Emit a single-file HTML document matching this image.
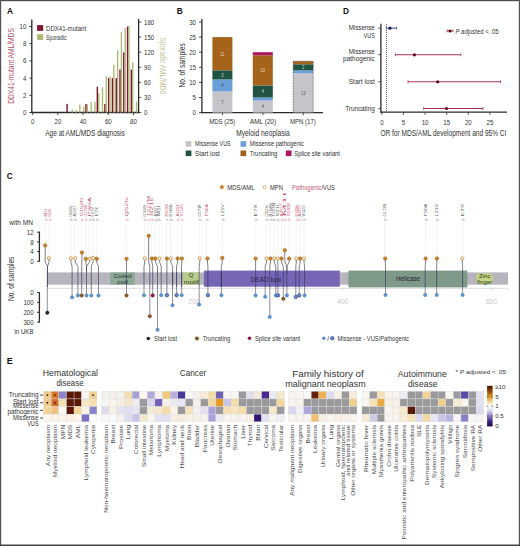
<!DOCTYPE html>
<html><head><meta charset="utf-8"><style>
html,body{margin:0;padding:0;background:#fff;}
svg{display:block;font-family:"Liberation Sans",sans-serif;}
</style></head><body>
<svg width="520" height="546" viewBox="0 0 520 546">
<rect width="520" height="546" fill="#fff"/>
<text x="7" y="14.0" font-size="9.4" font-weight="bold" fill="#111" textLength="6.0" lengthAdjust="spacingAndGlyphs">A</text>
<line x1="31.80" y1="19.50" x2="31.80" y2="113.10" stroke="#2a2a2a" stroke-width="1.3" />
<line x1="29.30" y1="112.50" x2="32.00" y2="112.50" stroke="#2a2a2a" stroke-width="0.9" />
<text x="26.30" y="115.06" font-size="7.1" fill="#333" text-anchor="end" textLength="3.40" lengthAdjust="spacingAndGlyphs" >0</text>
<line x1="29.30" y1="95.30" x2="32.00" y2="95.30" stroke="#2a2a2a" stroke-width="0.9" />
<text x="26.30" y="97.86" font-size="7.1" fill="#333" text-anchor="end" textLength="3.40" lengthAdjust="spacingAndGlyphs" >2</text>
<line x1="29.30" y1="78.10" x2="32.00" y2="78.10" stroke="#2a2a2a" stroke-width="0.9" />
<text x="26.30" y="80.66" font-size="7.1" fill="#333" text-anchor="end" textLength="3.40" lengthAdjust="spacingAndGlyphs" >4</text>
<line x1="29.30" y1="60.90" x2="32.00" y2="60.90" stroke="#2a2a2a" stroke-width="0.9" />
<text x="26.30" y="63.46" font-size="7.1" fill="#333" text-anchor="end" textLength="3.40" lengthAdjust="spacingAndGlyphs" >6</text>
<line x1="29.30" y1="43.70" x2="32.00" y2="43.70" stroke="#2a2a2a" stroke-width="0.9" />
<text x="26.30" y="46.26" font-size="7.1" fill="#333" text-anchor="end" textLength="3.40" lengthAdjust="spacingAndGlyphs" >8</text>
<line x1="29.30" y1="26.50" x2="32.00" y2="26.50" stroke="#2a2a2a" stroke-width="0.9" />
<text x="26.30" y="29.06" font-size="7.1" fill="#333" text-anchor="end" textLength="6.79" lengthAdjust="spacingAndGlyphs" >10</text>
<line x1="138.60" y1="19.00" x2="138.60" y2="113.10" stroke="#2a2a2a" stroke-width="1.3" />
<line x1="138.60" y1="112.50" x2="141.30" y2="112.50" stroke="#2a2a2a" stroke-width="0.8" />
<text x="144.00" y="115.06" font-size="7.1" fill="#333" textLength="3.40" lengthAdjust="spacingAndGlyphs" >0</text>
<line x1="138.60" y1="97.42" x2="141.30" y2="97.42" stroke="#2a2a2a" stroke-width="0.8" />
<text x="144.00" y="99.97" font-size="7.1" fill="#333" textLength="6.79" lengthAdjust="spacingAndGlyphs" >30</text>
<line x1="138.60" y1="82.33" x2="141.30" y2="82.33" stroke="#2a2a2a" stroke-width="0.8" />
<text x="144.00" y="84.89" font-size="7.1" fill="#333" textLength="6.79" lengthAdjust="spacingAndGlyphs" >60</text>
<line x1="138.60" y1="67.25" x2="141.30" y2="67.25" stroke="#2a2a2a" stroke-width="0.8" />
<text x="144.00" y="69.81" font-size="7.1" fill="#333" textLength="6.79" lengthAdjust="spacingAndGlyphs" >90</text>
<line x1="138.60" y1="52.17" x2="141.30" y2="52.17" stroke="#2a2a2a" stroke-width="0.8" />
<text x="144.00" y="54.72" font-size="7.1" fill="#333" textLength="10.19" lengthAdjust="spacingAndGlyphs" >120</text>
<line x1="138.60" y1="37.08" x2="141.30" y2="37.08" stroke="#2a2a2a" stroke-width="0.8" />
<text x="144.00" y="39.64" font-size="7.1" fill="#333" textLength="10.19" lengthAdjust="spacingAndGlyphs" >150</text>
<line x1="138.60" y1="22.00" x2="141.30" y2="22.00" stroke="#2a2a2a" stroke-width="0.8" />
<text x="144.00" y="24.56" font-size="7.1" fill="#333" textLength="10.19" lengthAdjust="spacingAndGlyphs" >180</text>
<line x1="31.20" y1="112.50" x2="139.20" y2="112.50" stroke="#2a2a2a" stroke-width="1.3" />
<line x1="32.70" y1="112.50" x2="32.70" y2="115.20" stroke="#2a2a2a" stroke-width="0.8" />
<text x="32.70" y="124.36" font-size="7.1" fill="#333" text-anchor="middle" textLength="3.40" lengthAdjust="spacingAndGlyphs" >0</text>
<line x1="57.90" y1="112.50" x2="57.90" y2="115.20" stroke="#2a2a2a" stroke-width="0.8" />
<text x="57.90" y="124.36" font-size="7.1" fill="#333" text-anchor="middle" textLength="6.79" lengthAdjust="spacingAndGlyphs" >20</text>
<line x1="83.10" y1="112.50" x2="83.10" y2="115.20" stroke="#2a2a2a" stroke-width="0.8" />
<text x="83.10" y="124.36" font-size="7.1" fill="#333" text-anchor="middle" textLength="6.79" lengthAdjust="spacingAndGlyphs" >40</text>
<line x1="108.30" y1="112.50" x2="108.30" y2="115.20" stroke="#2a2a2a" stroke-width="0.8" />
<text x="108.30" y="124.36" font-size="7.1" fill="#333" text-anchor="middle" textLength="6.79" lengthAdjust="spacingAndGlyphs" >60</text>
<line x1="133.50" y1="112.50" x2="133.50" y2="115.20" stroke="#2a2a2a" stroke-width="0.8" />
<text x="133.50" y="124.36" font-size="7.1" fill="#333" text-anchor="middle" textLength="6.79" lengthAdjust="spacingAndGlyphs" >80</text>
<text x="85.00" y="135.87" font-size="8.8" fill="#333" text-anchor="middle" textLength="79.50" lengthAdjust="spacingAndGlyphs" >Age at AML/MDS diagnosis</text>
<text transform="translate(11.20,66.00) rotate(-90)" x="0" y="3.10" font-size="8.6" fill="#b9506a" text-anchor="middle" textLength="75.60" lengthAdjust="spacingAndGlyphs" >DDX41-mutant AML/MDS</text>
<text transform="translate(163.50,66.00) rotate(90)" x="0" y="3.10" font-size="8.6" fill="#c2c49a" text-anchor="middle" textLength="57.00" lengthAdjust="spacingAndGlyphs" >Sporadic AML/MDS</text>
<rect x="37.10" y="25.10" width="6.10" height="5.80" fill="#821830" />
<rect x="37.10" y="34.20" width="6.10" height="5.80" fill="#adb874" />
<text x="46.10" y="30.52" font-size="7" fill="#333" textLength="40.00" lengthAdjust="spacingAndGlyphs" >DDX41-mutant</text>
<text x="46.10" y="39.62" font-size="7" fill="#333" textLength="20.50" lengthAdjust="spacingAndGlyphs" >Sporadic</text>
<rect x="66.37" y="103.90" width="1.45" height="8.60" fill="#821830" />
<rect x="71.60" y="109.48" width="1.35" height="3.02" fill="#adb874" />
<rect x="75.38" y="109.99" width="1.35" height="2.51" fill="#adb874" />
<rect x="79.16" y="104.46" width="1.35" height="8.04" fill="#adb874" />
<rect x="82.94" y="106.47" width="1.35" height="6.03" fill="#adb874" />
<rect x="85.27" y="103.90" width="1.45" height="8.60" fill="#821830" />
<rect x="86.72" y="104.46" width="1.35" height="8.04" fill="#adb874" />
<rect x="90.50" y="101.94" width="1.35" height="10.56" fill="#adb874" />
<rect x="94.28" y="101.94" width="1.35" height="10.56" fill="#adb874" />
<rect x="96.61" y="86.70" width="1.45" height="25.80" fill="#821830" />
<rect x="98.06" y="92.89" width="1.35" height="19.61" fill="#adb874" />
<rect x="101.84" y="87.36" width="1.35" height="25.14" fill="#adb874" />
<rect x="104.17" y="103.90" width="1.45" height="8.60" fill="#821830" />
<rect x="105.62" y="76.30" width="1.35" height="36.20" fill="#adb874" />
<rect x="107.95" y="78.10" width="1.45" height="34.40" fill="#821830" />
<rect x="109.40" y="76.30" width="1.35" height="36.20" fill="#adb874" />
<rect x="111.73" y="78.10" width="1.45" height="34.40" fill="#821830" />
<rect x="113.18" y="64.74" width="1.35" height="47.76" fill="#adb874" />
<rect x="115.51" y="78.10" width="1.45" height="34.40" fill="#821830" />
<rect x="116.96" y="50.16" width="1.35" height="62.34" fill="#adb874" />
<rect x="119.29" y="69.50" width="1.45" height="43.00" fill="#821830" />
<rect x="120.74" y="32.06" width="1.35" height="80.44" fill="#adb874" />
<rect x="123.07" y="52.30" width="1.45" height="60.20" fill="#821830" />
<rect x="124.52" y="28.03" width="1.35" height="84.47" fill="#adb874" />
<rect x="126.85" y="26.50" width="1.45" height="86.00" fill="#821830" />
<rect x="128.30" y="26.02" width="1.35" height="86.48" fill="#adb874" />
<rect x="130.63" y="69.50" width="1.45" height="43.00" fill="#821830" />
<rect x="132.08" y="62.22" width="1.35" height="50.28" fill="#adb874" />
<rect x="135.86" y="101.44" width="1.35" height="11.06" fill="#adb874" />
<text x="176.8" y="14.0" font-size="9.4" font-weight="bold" fill="#111" textLength="6.0" lengthAdjust="spacingAndGlyphs">B</text>
<line x1="201.90" y1="19.00" x2="201.90" y2="113.20" stroke="#2a2a2a" stroke-width="1.3" />
<line x1="199.10" y1="112.60" x2="202.00" y2="112.60" stroke="#2a2a2a" stroke-width="0.9" />
<text x="196.00" y="115.16" font-size="7.1" fill="#333" text-anchor="end" textLength="3.40" lengthAdjust="spacingAndGlyphs" >0</text>
<line x1="199.10" y1="97.50" x2="202.00" y2="97.50" stroke="#2a2a2a" stroke-width="0.9" />
<text x="196.00" y="100.06" font-size="7.1" fill="#333" text-anchor="end" textLength="3.40" lengthAdjust="spacingAndGlyphs" >5</text>
<line x1="199.10" y1="82.40" x2="202.00" y2="82.40" stroke="#2a2a2a" stroke-width="0.9" />
<text x="196.00" y="84.96" font-size="7.1" fill="#333" text-anchor="end" textLength="6.79" lengthAdjust="spacingAndGlyphs" >10</text>
<line x1="199.10" y1="67.30" x2="202.00" y2="67.30" stroke="#2a2a2a" stroke-width="0.9" />
<text x="196.00" y="69.86" font-size="7.1" fill="#333" text-anchor="end" textLength="6.79" lengthAdjust="spacingAndGlyphs" >15</text>
<line x1="199.10" y1="52.20" x2="202.00" y2="52.20" stroke="#2a2a2a" stroke-width="0.9" />
<text x="196.00" y="54.76" font-size="7.1" fill="#333" text-anchor="end" textLength="6.79" lengthAdjust="spacingAndGlyphs" >20</text>
<line x1="199.10" y1="37.10" x2="202.00" y2="37.10" stroke="#2a2a2a" stroke-width="0.9" />
<text x="196.00" y="39.66" font-size="7.1" fill="#333" text-anchor="end" textLength="6.79" lengthAdjust="spacingAndGlyphs" >25</text>
<line x1="199.10" y1="22.00" x2="202.00" y2="22.00" stroke="#2a2a2a" stroke-width="0.9" />
<text x="196.00" y="24.56" font-size="7.1" fill="#333" text-anchor="end" textLength="6.79" lengthAdjust="spacingAndGlyphs" >30</text>
<line x1="201.30" y1="112.60" x2="323.00" y2="112.60" stroke="#2a2a2a" stroke-width="1.3" />
<rect x="212.40" y="91.46" width="20.00" height="21.14" fill="#c6c4cb" />
<text x="222.40" y="103.83" font-size="5.0" fill="#555" text-anchor="middle" textLength="2.22" lengthAdjust="spacingAndGlyphs" >7</text>
<rect x="212.40" y="79.38" width="20.00" height="12.08" fill="#6a9fd8" />
<text x="222.40" y="87.22" font-size="5.0" fill="#345" text-anchor="middle" textLength="2.22" lengthAdjust="spacingAndGlyphs" >4</text>
<rect x="212.40" y="70.32" width="20.00" height="9.06" fill="#1f5443" />
<text x="222.40" y="76.65" font-size="5.0" fill="#cdd" text-anchor="middle" textLength="2.22" lengthAdjust="spacingAndGlyphs" >3</text>
<rect x="212.40" y="37.10" width="20.00" height="33.22" fill="#a6631c" />
<text x="222.40" y="55.51" font-size="5.0" fill="#f0d8b0" text-anchor="middle" textLength="4.15" lengthAdjust="spacingAndGlyphs" >11</text>
<line x1="222.50" y1="112.60" x2="222.50" y2="115.30" stroke="#2a2a2a" stroke-width="0.8" />
<rect x="252.80" y="100.52" width="20.00" height="12.08" fill="#c6c4cb" />
<text x="262.80" y="108.36" font-size="5.0" fill="#555" text-anchor="middle" textLength="2.22" lengthAdjust="spacingAndGlyphs" >4</text>
<rect x="252.80" y="97.50" width="20.00" height="3.02" fill="#6a9fd8" />
<rect x="252.80" y="85.42" width="20.00" height="12.08" fill="#1f5443" />
<text x="262.80" y="93.26" font-size="5.0" fill="#cdd" text-anchor="middle" textLength="2.22" lengthAdjust="spacingAndGlyphs" >4</text>
<rect x="252.80" y="55.22" width="20.00" height="30.20" fill="#a6631c" />
<text x="262.80" y="72.12" font-size="5.0" fill="#f0d8b0" text-anchor="middle" textLength="4.45" lengthAdjust="spacingAndGlyphs" >10</text>
<rect x="252.80" y="52.20" width="20.00" height="3.02" fill="#b01560" />
<line x1="262.90" y1="112.60" x2="262.90" y2="115.30" stroke="#2a2a2a" stroke-width="0.8" />
<rect x="293.20" y="73.34" width="20.00" height="39.26" fill="#c6c4cb" />
<text x="303.20" y="94.77" font-size="5.0" fill="#555" text-anchor="middle" textLength="4.45" lengthAdjust="spacingAndGlyphs" >13</text>
<rect x="293.20" y="70.32" width="20.00" height="3.02" fill="#6a9fd8" />
<rect x="293.20" y="64.28" width="20.00" height="6.04" fill="#1f5443" />
<text x="303.20" y="69.10" font-size="5.0" fill="#cdd" text-anchor="middle" textLength="2.22" lengthAdjust="spacingAndGlyphs" >2</text>
<rect x="293.20" y="61.26" width="20.00" height="3.02" fill="#a6631c" />
<line x1="303.30" y1="112.60" x2="303.30" y2="115.30" stroke="#2a2a2a" stroke-width="0.8" />
<rect x="293.2" y="61.3" width="20.0" height="51.3" fill="none" stroke="#333" stroke-width="0.7" stroke-dasharray="0.8 0.8"/>
<text x="222.10" y="124.23" font-size="7.3" fill="#333" text-anchor="middle" textLength="25.80" lengthAdjust="spacingAndGlyphs" >MDS (25)</text>
<text x="263.00" y="124.23" font-size="7.3" fill="#333" text-anchor="middle" textLength="26.10" lengthAdjust="spacingAndGlyphs" >AML (20)</text>
<text x="302.90" y="124.23" font-size="7.3" fill="#333" text-anchor="middle" textLength="25.80" lengthAdjust="spacingAndGlyphs" >MPN (17)</text>
<text x="263.00" y="136.07" font-size="8.8" fill="#333" text-anchor="middle" textLength="53.70" lengthAdjust="spacingAndGlyphs" >Myeloid neoplasia</text>
<text transform="translate(181.60,65.40) rotate(-90)" x="0" y="3.10" font-size="8.6" fill="#333" text-anchor="middle" textLength="44.40" lengthAdjust="spacingAndGlyphs" >No. of samples</text>
<rect x="185.70" y="141.20" width="5.70" height="5.60" fill="#c6c4cb" />
<text x="195.00" y="146.45" font-size="6.8" fill="#333" textLength="35.70" lengthAdjust="spacingAndGlyphs" >Missense VUS</text>
<rect x="240.50" y="141.20" width="5.70" height="5.60" fill="#6a9fd8" />
<text x="249.80" y="146.45" font-size="6.8" fill="#333" textLength="54.00" lengthAdjust="spacingAndGlyphs" >Missense pathogenic</text>
<rect x="185.70" y="150.50" width="5.70" height="5.60" fill="#1f5443" />
<text x="195.00" y="155.75" font-size="6.8" fill="#333" textLength="24.80" lengthAdjust="spacingAndGlyphs" >Start lost</text>
<rect x="240.50" y="150.50" width="5.70" height="5.60" fill="#a0601e" />
<text x="249.80" y="155.75" font-size="6.8" fill="#333" textLength="27.50" lengthAdjust="spacingAndGlyphs" >Truncating</text>
<rect x="285.80" y="150.50" width="5.70" height="5.60" fill="#b01560" />
<text x="294.30" y="155.75" font-size="6.8" fill="#333" textLength="45.70" lengthAdjust="spacingAndGlyphs" >Splice site variant</text>
<text x="343" y="14.0" font-size="9.4" font-weight="bold" fill="#111" textLength="6.0" lengthAdjust="spacingAndGlyphs">D</text>
<line x1="380.90" y1="23.80" x2="380.90" y2="112.70" stroke="#2a2a2a" stroke-width="1.3" />
<line x1="380.30" y1="112.10" x2="507.00" y2="112.10" stroke="#2a2a2a" stroke-width="1.3" />
<line x1="386.50" y1="24.00" x2="386.50" y2="112.00" stroke="#3a3a3a" stroke-width="0.75" stroke-dasharray="1 1"/>
<line x1="381.90" y1="112.10" x2="381.90" y2="114.80" stroke="#2a2a2a" stroke-width="0.8" />
<text x="381.90" y="124.66" font-size="7.1" fill="#333" text-anchor="middle" textLength="3.40" lengthAdjust="spacingAndGlyphs" >0</text>
<line x1="403.50" y1="112.10" x2="403.50" y2="114.80" stroke="#2a2a2a" stroke-width="0.8" />
<text x="403.50" y="124.66" font-size="7.1" fill="#333" text-anchor="middle" textLength="3.40" lengthAdjust="spacingAndGlyphs" >5</text>
<line x1="425.10" y1="112.10" x2="425.10" y2="114.80" stroke="#2a2a2a" stroke-width="0.8" />
<text x="425.10" y="124.66" font-size="7.1" fill="#333" text-anchor="middle" textLength="6.79" lengthAdjust="spacingAndGlyphs" >10</text>
<line x1="446.70" y1="112.10" x2="446.70" y2="114.80" stroke="#2a2a2a" stroke-width="0.8" />
<text x="446.70" y="124.66" font-size="7.1" fill="#333" text-anchor="middle" textLength="6.79" lengthAdjust="spacingAndGlyphs" >15</text>
<line x1="468.30" y1="112.10" x2="468.30" y2="114.80" stroke="#2a2a2a" stroke-width="0.8" />
<text x="468.30" y="124.66" font-size="7.1" fill="#333" text-anchor="middle" textLength="6.79" lengthAdjust="spacingAndGlyphs" >20</text>
<line x1="489.90" y1="112.10" x2="489.90" y2="114.80" stroke="#2a2a2a" stroke-width="0.8" />
<text x="489.90" y="124.66" font-size="7.1" fill="#333" text-anchor="middle" textLength="6.79" lengthAdjust="spacingAndGlyphs" >25</text>
<text x="443.40" y="135.87" font-size="8.8" fill="#333" text-anchor="middle" textLength="126.00" lengthAdjust="spacingAndGlyphs" >OR for MDS/AML development and 95% CI</text>
<line x1="378.30" y1="28.20" x2="380.90" y2="28.20" stroke="#2a2a2a" stroke-width="0.8" />
<line x1="378.30" y1="54.70" x2="380.90" y2="54.70" stroke="#2a2a2a" stroke-width="0.8" />
<line x1="378.30" y1="81.80" x2="380.90" y2="81.80" stroke="#2a2a2a" stroke-width="0.8" />
<line x1="378.30" y1="108.60" x2="380.90" y2="108.60" stroke="#2a2a2a" stroke-width="0.8" />
<text x="374.80" y="30.43" font-size="7.3" fill="#333" text-anchor="end" textLength="26.10" lengthAdjust="spacingAndGlyphs" >Missense</text>
<text x="374.80" y="38.33" font-size="7.3" fill="#333" text-anchor="end" textLength="11.30" lengthAdjust="spacingAndGlyphs" >VUS</text>
<text x="374.80" y="53.83" font-size="7.3" fill="#333" text-anchor="end" textLength="26.10" lengthAdjust="spacingAndGlyphs" >Missense</text>
<text x="374.80" y="61.33" font-size="7.3" fill="#333" text-anchor="end" textLength="31.70" lengthAdjust="spacingAndGlyphs" >pathogenic</text>
<text x="374.80" y="84.43" font-size="7.3" fill="#333" text-anchor="end" textLength="26.10" lengthAdjust="spacingAndGlyphs" >Start lost</text>
<text x="374.80" y="111.43" font-size="7.3" fill="#333" text-anchor="end" textLength="29.60" lengthAdjust="spacingAndGlyphs" >Truncating</text>
<line x1="386.40" y1="28.20" x2="396.60" y2="28.20" stroke="#4a5a9c" stroke-width="1.1" />
<line x1="386.40" y1="26.70" x2="386.40" y2="29.70" stroke="#4a5a9c" stroke-width="0.8" />
<line x1="396.60" y1="26.70" x2="396.60" y2="29.70" stroke="#4a5a9c" stroke-width="0.8" />
<circle cx="390.00" cy="28.20" r="1.60" fill="#1a2258" stroke="none" stroke-width="0.6"/>
<line x1="395.40" y1="54.80" x2="460.90" y2="54.80" stroke="#ac3452" stroke-width="1.1" />
<line x1="395.40" y1="53.30" x2="395.40" y2="56.30" stroke="#ac3452" stroke-width="0.8" />
<line x1="460.90" y1="53.30" x2="460.90" y2="56.30" stroke="#ac3452" stroke-width="0.8" />
<circle cx="414.40" cy="54.80" r="1.60" fill="#5a0418" stroke="none" stroke-width="0.6"/>
<line x1="408.00" y1="81.80" x2="500.50" y2="81.80" stroke="#ac3452" stroke-width="1.1" />
<line x1="408.00" y1="80.30" x2="408.00" y2="83.30" stroke="#ac3452" stroke-width="0.8" />
<line x1="500.50" y1="80.30" x2="500.50" y2="83.30" stroke="#ac3452" stroke-width="0.8" />
<circle cx="437.70" cy="81.80" r="1.60" fill="#5a0418" stroke="none" stroke-width="0.6"/>
<line x1="423.70" y1="108.50" x2="482.90" y2="108.50" stroke="#ac3452" stroke-width="1.1" />
<line x1="423.70" y1="107.00" x2="423.70" y2="110.00" stroke="#ac3452" stroke-width="0.8" />
<line x1="482.90" y1="107.00" x2="482.90" y2="110.00" stroke="#ac3452" stroke-width="0.8" />
<circle cx="446.50" cy="108.50" r="1.60" fill="#5a0418" stroke="none" stroke-width="0.6"/>
<line x1="447.00" y1="30.90" x2="452.90" y2="30.90" stroke="#ac3452" stroke-width="1.0" />
<line x1="447.00" y1="29.50" x2="447.00" y2="32.30" stroke="#ac3452" stroke-width="0.8" />
<line x1="452.90" y1="29.50" x2="452.90" y2="32.30" stroke="#ac3452" stroke-width="0.8" />
<circle cx="450.00" cy="30.90" r="1.50" fill="#5a0418" stroke="none" stroke-width="0.6"/>
<text x="455.5" y="33.8" font-size="6.3" fill="#333" textLength="43" lengthAdjust="spacingAndGlyphs"><tspan font-style="italic">P</tspan> adjusted &lt; .05</text>
<text x="6.8" y="179.0" font-size="9.4" font-weight="bold" fill="#111" textLength="6.0" lengthAdjust="spacingAndGlyphs">C</text>
<text x="9.20" y="224.82" font-size="7" fill="#333" textLength="23.80" lengthAdjust="spacingAndGlyphs" >with MN</text>
<text x="14.40" y="334.02" font-size="7" fill="#333" textLength="19.20" lengthAdjust="spacingAndGlyphs" >in UKB</text>
<text transform="translate(11.30,278.80) rotate(-90)" x="0" y="3.10" font-size="8.6" fill="#333" text-anchor="middle" textLength="44.50" lengthAdjust="spacingAndGlyphs" >No. of samples</text>
<line x1="39.40" y1="231.60" x2="39.40" y2="261.80" stroke="#2a2a2a" stroke-width="1.3" />
<line x1="37.00" y1="232.16" x2="39.50" y2="232.16" stroke="#2a2a2a" stroke-width="0.9" />
<text x="33.60" y="235.12" font-size="7.1" fill="#333" text-anchor="end" textLength="6.79" lengthAdjust="spacingAndGlyphs" >12</text>
<line x1="37.00" y1="241.84" x2="39.50" y2="241.84" stroke="#2a2a2a" stroke-width="0.9" />
<text x="33.60" y="244.80" font-size="7.1" fill="#333" text-anchor="end" textLength="3.40" lengthAdjust="spacingAndGlyphs" >8</text>
<line x1="37.00" y1="251.52" x2="39.50" y2="251.52" stroke="#2a2a2a" stroke-width="0.9" />
<text x="33.60" y="254.48" font-size="7.1" fill="#333" text-anchor="end" textLength="3.40" lengthAdjust="spacingAndGlyphs" >4</text>
<line x1="37.00" y1="261.20" x2="39.50" y2="261.20" stroke="#2a2a2a" stroke-width="0.9" />
<text x="33.60" y="264.16" font-size="7.1" fill="#333" text-anchor="end" textLength="3.40" lengthAdjust="spacingAndGlyphs" >0</text>
<line x1="39.40" y1="292.00" x2="39.40" y2="322.60" stroke="#2a2a2a" stroke-width="1.3" />
<line x1="37.00" y1="292.50" x2="39.50" y2="292.50" stroke="#2a2a2a" stroke-width="0.9" />
<text x="33.60" y="295.06" font-size="7.1" fill="#333" text-anchor="end" textLength="3.40" lengthAdjust="spacingAndGlyphs" >0</text>
<line x1="37.00" y1="302.40" x2="39.50" y2="302.40" stroke="#2a2a2a" stroke-width="0.9" />
<text x="33.60" y="304.96" font-size="7.1" fill="#333" text-anchor="end" textLength="10.19" lengthAdjust="spacingAndGlyphs" >100</text>
<line x1="37.00" y1="312.30" x2="39.50" y2="312.30" stroke="#2a2a2a" stroke-width="0.9" />
<text x="33.60" y="314.86" font-size="7.1" fill="#333" text-anchor="end" textLength="10.19" lengthAdjust="spacingAndGlyphs" >200</text>
<line x1="37.00" y1="322.20" x2="39.50" y2="322.20" stroke="#2a2a2a" stroke-width="0.9" />
<text x="33.60" y="324.76" font-size="7.1" fill="#333" text-anchor="end" textLength="10.19" lengthAdjust="spacingAndGlyphs" >300</text>
<rect x="47.30" y="272.40" width="460.70" height="12.30" fill="#b6b4bd" />
<line x1="47.30" y1="288.30" x2="508.00" y2="288.30" stroke="#cfcbd2" stroke-width="0.7" />
<line x1="194.00" y1="288.30" x2="194.00" y2="290.50" stroke="#c8c4cc" stroke-width="0.6" />
<text x="194.00" y="303.54" font-size="6.5" fill="#c4c4c8" text-anchor="middle" >200</text>
<line x1="342.70" y1="288.30" x2="342.70" y2="290.50" stroke="#c8c4cc" stroke-width="0.6" />
<text x="342.70" y="303.54" font-size="6.5" fill="#c4c4c8" text-anchor="middle" >400</text>
<line x1="491.40" y1="288.30" x2="491.40" y2="290.50" stroke="#c8c4cc" stroke-width="0.6" />
<text x="491.40" y="303.54" font-size="6.5" fill="#c4c4c8" text-anchor="middle" >600</text>
<line x1="508.00" y1="288.30" x2="508.00" y2="290.50" stroke="#c8c4cc" stroke-width="0.6" />
<rect x="110.30" y="272.40" width="24.40" height="12.30" fill="#8ea897" />
<rect x="182.50" y="272.40" width="17.30" height="12.30" fill="#b8ca8c" />
<rect x="203.90" y="270.60" width="135.90" height="16.10" fill="#7766b5" />
<rect x="348.40" y="270.60" width="119.00" height="16.80" fill="#7f9988" />
<rect x="476.50" y="273.20" width="16.50" height="10.80" fill="#c3d48a" rx="3"/>
<text transform="translate(45.10,219.00) rotate(-90)" x="0" y="1.40" font-size="3.9" fill="#c8506e" text-anchor="middle" textLength="2.80" lengthAdjust="spacingAndGlyphs" >p.</text>
<text transform="translate(45.10,212.60) rotate(-90)" x="0" y="1.40" font-size="3.9" fill="#c8506e" text-anchor="middle" textLength="7.60" lengthAdjust="spacingAndGlyphs" >M1I</text>
<line x1="45.10" y1="222.50" x2="45.10" y2="255.50" stroke="#c8c8c8" stroke-width="0.4" stroke-dasharray="0.8 0.6"/>
<text transform="translate(49.20,219.00) rotate(-90)" x="0" y="1.40" font-size="3.9" fill="#c8506e" text-anchor="middle" textLength="2.80" lengthAdjust="spacingAndGlyphs" >p.</text>
<text transform="translate(49.20,212.60) rotate(-90)" x="0" y="1.40" font-size="3.9" fill="#c8506e" text-anchor="middle" textLength="7.60" lengthAdjust="spacingAndGlyphs" >R53W</text>
<line x1="49.20" y1="222.50" x2="49.20" y2="255.50" stroke="#c8c8c8" stroke-width="0.4" stroke-dasharray="0.8 0.6"/>
<text transform="translate(70.70,219.00) rotate(-90)" x="0" y="1.40" font-size="3.9" fill="#5a5a5a" text-anchor="middle" textLength="2.80" lengthAdjust="spacingAndGlyphs" >p.</text>
<text transform="translate(70.70,210.95) rotate(-90)" x="0" y="1.40" font-size="3.9" fill="#5a5a5a" text-anchor="middle" textLength="10.90" lengthAdjust="spacingAndGlyphs" >D140fs</text>
<line x1="70.70" y1="222.50" x2="70.70" y2="255.50" stroke="#c8c8c8" stroke-width="0.4" stroke-dasharray="0.8 0.6"/>
<text transform="translate(74.70,219.00) rotate(-90)" x="0" y="1.40" font-size="3.9" fill="#5a5a5a" text-anchor="middle" textLength="2.80" lengthAdjust="spacingAndGlyphs" >p.</text>
<text transform="translate(74.70,210.95) rotate(-90)" x="0" y="1.40" font-size="3.9" fill="#5a5a5a" text-anchor="middle" textLength="10.90" lengthAdjust="spacingAndGlyphs" >A225T</text>
<line x1="74.70" y1="222.50" x2="74.70" y2="255.50" stroke="#c8c8c8" stroke-width="0.4" stroke-dasharray="0.8 0.6"/>
<text transform="translate(81.70,219.00) rotate(-90)" x="0" y="1.40" font-size="3.9" fill="#c8506e" text-anchor="middle" textLength="2.80" lengthAdjust="spacingAndGlyphs" >p.</text>
<text transform="translate(81.70,206.90) rotate(-90)" x="0" y="1.40" font-size="3.9" fill="#c8506e" text-anchor="middle" textLength="19.00" lengthAdjust="spacingAndGlyphs" >V152G</text>
<line x1="81.70" y1="222.50" x2="81.70" y2="255.50" stroke="#c8c8c8" stroke-width="0.4" stroke-dasharray="0.8 0.6"/>
<text transform="translate(85.50,219.00) rotate(-90)" x="0" y="1.40" font-size="3.9" fill="#c8506e" text-anchor="middle" textLength="2.80" lengthAdjust="spacingAndGlyphs" >p.</text>
<text transform="translate(85.50,210.70) rotate(-90)" x="0" y="1.40" font-size="3.9" fill="#c8506e" text-anchor="middle" textLength="11.40" lengthAdjust="spacingAndGlyphs" >G173R</text>
<line x1="85.50" y1="222.50" x2="85.50" y2="255.50" stroke="#c8c8c8" stroke-width="0.4" stroke-dasharray="0.8 0.6"/>
<text transform="translate(89.10,219.00) rotate(-90)" x="0" y="1.40" font-size="3.9" fill="#c8506e" text-anchor="middle" textLength="2.80" lengthAdjust="spacingAndGlyphs" >p.</text>
<text transform="translate(89.10,206.90) rotate(-90)" x="0" y="1.40" font-size="3.9" fill="#c8506e" text-anchor="middle" textLength="19.00" lengthAdjust="spacingAndGlyphs" >P30A</text>
<line x1="89.10" y1="222.50" x2="89.10" y2="255.50" stroke="#c8c8c8" stroke-width="0.4" stroke-dasharray="0.8 0.6"/>
<text transform="translate(93.00,219.00) rotate(-90)" x="0" y="1.40" font-size="3.9" fill="#5a5a5a" text-anchor="middle" textLength="2.80" lengthAdjust="spacingAndGlyphs" >p.</text>
<text transform="translate(93.00,211.70) rotate(-90)" x="0" y="1.40" font-size="3.9" fill="#5a5a5a" text-anchor="middle" textLength="9.40" lengthAdjust="spacingAndGlyphs" >L21V</text>
<line x1="93.00" y1="222.50" x2="93.00" y2="255.50" stroke="#c8c8c8" stroke-width="0.4" stroke-dasharray="0.8 0.6"/>
<text transform="translate(96.80,219.00) rotate(-90)" x="0" y="1.40" font-size="3.9" fill="#5a5a5a" text-anchor="middle" textLength="2.80" lengthAdjust="spacingAndGlyphs" >p.</text>
<text transform="translate(96.80,211.70) rotate(-90)" x="0" y="1.40" font-size="3.9" fill="#5a5a5a" text-anchor="middle" textLength="9.40" lengthAdjust="spacingAndGlyphs" >E7X</text>
<line x1="96.80" y1="222.50" x2="96.80" y2="255.50" stroke="#c8c8c8" stroke-width="0.4" stroke-dasharray="0.8 0.6"/>
<text transform="translate(126.10,219.00) rotate(-90)" x="0" y="1.40" font-size="3.9" fill="#c8506e" text-anchor="middle" textLength="2.80" lengthAdjust="spacingAndGlyphs" >p.</text>
<text transform="translate(126.10,206.80) rotate(-90)" x="0" y="1.40" font-size="3.9" fill="#c8506e" text-anchor="middle" textLength="19.20" lengthAdjust="spacingAndGlyphs" >Q52fs</text>
<line x1="126.10" y1="222.50" x2="126.10" y2="255.50" stroke="#c8c8c8" stroke-width="0.4" stroke-dasharray="0.8 0.6"/>
<text transform="translate(144.60,219.00) rotate(-90)" x="0" y="1.40" font-size="3.9" fill="#5a5a5a" text-anchor="middle" textLength="2.80" lengthAdjust="spacingAndGlyphs" >p.</text>
<text transform="translate(144.60,210.60) rotate(-90)" x="0" y="1.40" font-size="3.9" fill="#5a5a5a" text-anchor="middle" textLength="11.60" lengthAdjust="spacingAndGlyphs" >R164W</text>
<line x1="144.60" y1="222.50" x2="144.60" y2="255.50" stroke="#c8c8c8" stroke-width="0.4" stroke-dasharray="0.8 0.6"/>
<text transform="translate(148.30,219.00) rotate(-90)" x="0" y="1.40" font-size="3.9" fill="#c8506e" text-anchor="middle" textLength="2.80" lengthAdjust="spacingAndGlyphs" >p.</text>
<text transform="translate(148.30,206.25) rotate(-90)" x="0" y="1.40" font-size="3.9" fill="#c8506e" text-anchor="middle" textLength="20.30" lengthAdjust="spacingAndGlyphs" >T227M</text>
<line x1="148.30" y1="222.50" x2="148.30" y2="255.50" stroke="#c8c8c8" stroke-width="0.4" stroke-dasharray="0.8 0.6"/>
<text transform="translate(151.60,219.00) rotate(-90)" x="0" y="1.40" font-size="3.9" fill="#c8506e" text-anchor="middle" textLength="2.80" lengthAdjust="spacingAndGlyphs" >p.</text>
<text transform="translate(151.60,206.45) rotate(-90)" x="0" y="1.40" font-size="3.9" fill="#c8506e" text-anchor="middle" textLength="19.90" lengthAdjust="spacingAndGlyphs" >S21L</text>
<line x1="151.60" y1="222.50" x2="151.60" y2="255.50" stroke="#c8c8c8" stroke-width="0.4" stroke-dasharray="0.8 0.6"/>
<text transform="translate(155.30,219.00) rotate(-90)" x="0" y="1.40" font-size="3.9" fill="#5a5a5a" text-anchor="middle" textLength="2.80" lengthAdjust="spacingAndGlyphs" >p.</text>
<text transform="translate(155.30,210.95) rotate(-90)" x="0" y="1.40" font-size="3.9" fill="#5a5a5a" text-anchor="middle" textLength="10.90" lengthAdjust="spacingAndGlyphs" >A201T</text>
<line x1="155.30" y1="222.50" x2="155.30" y2="255.50" stroke="#c8c8c8" stroke-width="0.4" stroke-dasharray="0.8 0.6"/>
<text transform="translate(159.00,219.00) rotate(-90)" x="0" y="1.40" font-size="3.9" fill="#5a5a5a" text-anchor="middle" textLength="2.80" lengthAdjust="spacingAndGlyphs" >p.</text>
<text transform="translate(159.00,210.95) rotate(-90)" x="0" y="1.40" font-size="3.9" fill="#5a5a5a" text-anchor="middle" textLength="10.90" lengthAdjust="spacingAndGlyphs" >M1I</text>
<line x1="159.00" y1="222.50" x2="159.00" y2="255.50" stroke="#c8c8c8" stroke-width="0.4" stroke-dasharray="0.8 0.6"/>
<text transform="translate(166.40,219.00) rotate(-90)" x="0" y="1.40" font-size="3.9" fill="#c8506e" text-anchor="middle" textLength="2.80" lengthAdjust="spacingAndGlyphs" >p.</text>
<text transform="translate(166.40,210.20) rotate(-90)" x="0" y="1.40" font-size="3.9" fill="#c8506e" text-anchor="middle" textLength="12.40" lengthAdjust="spacingAndGlyphs" >R53W</text>
<line x1="166.40" y1="222.50" x2="166.40" y2="255.50" stroke="#c8c8c8" stroke-width="0.4" stroke-dasharray="0.8 0.6"/>
<text transform="translate(170.50,219.00) rotate(-90)" x="0" y="1.40" font-size="3.9" fill="#5a5a5a" text-anchor="middle" textLength="2.80" lengthAdjust="spacingAndGlyphs" >p.</text>
<text transform="translate(170.50,210.20) rotate(-90)" x="0" y="1.40" font-size="3.9" fill="#5a5a5a" text-anchor="middle" textLength="12.40" lengthAdjust="spacingAndGlyphs" >D140fs</text>
<line x1="170.50" y1="222.50" x2="170.50" y2="255.50" stroke="#c8c8c8" stroke-width="0.4" stroke-dasharray="0.8 0.6"/>
<text transform="translate(177.60,219.00) rotate(-90)" x="0" y="1.40" font-size="3.9" fill="#c8506e" text-anchor="middle" textLength="2.80" lengthAdjust="spacingAndGlyphs" >p.</text>
<text transform="translate(177.60,210.20) rotate(-90)" x="0" y="1.40" font-size="3.9" fill="#c8506e" text-anchor="middle" textLength="12.40" lengthAdjust="spacingAndGlyphs" >A225T</text>
<line x1="177.60" y1="222.50" x2="177.60" y2="255.50" stroke="#c8c8c8" stroke-width="0.4" stroke-dasharray="0.8 0.6"/>
<text transform="translate(181.60,219.00) rotate(-90)" x="0" y="1.40" font-size="3.9" fill="#c8506e" text-anchor="middle" textLength="2.80" lengthAdjust="spacingAndGlyphs" >p.</text>
<text transform="translate(181.60,210.20) rotate(-90)" x="0" y="1.40" font-size="3.9" fill="#c8506e" text-anchor="middle" textLength="12.40" lengthAdjust="spacingAndGlyphs" >V152G</text>
<line x1="181.60" y1="222.50" x2="181.60" y2="255.50" stroke="#c8c8c8" stroke-width="0.4" stroke-dasharray="0.8 0.6"/>
<text transform="translate(199.70,219.00) rotate(-90)" x="0" y="1.40" font-size="3.9" fill="#5a5a5a" text-anchor="middle" textLength="2.80" lengthAdjust="spacingAndGlyphs" >p.</text>
<text transform="translate(199.70,210.30) rotate(-90)" x="0" y="1.40" font-size="3.9" fill="#5a5a5a" text-anchor="middle" textLength="12.20" lengthAdjust="spacingAndGlyphs" >G173R</text>
<line x1="199.70" y1="222.50" x2="199.70" y2="255.50" stroke="#c8c8c8" stroke-width="0.4" stroke-dasharray="0.8 0.6"/>
<text transform="translate(206.60,219.00) rotate(-90)" x="0" y="1.40" font-size="3.9" fill="#c8506e" text-anchor="middle" textLength="2.80" lengthAdjust="spacingAndGlyphs" >p.</text>
<text transform="translate(206.60,210.30) rotate(-90)" x="0" y="1.40" font-size="3.9" fill="#c8506e" text-anchor="middle" textLength="12.20" lengthAdjust="spacingAndGlyphs" >P30A</text>
<line x1="206.60" y1="222.50" x2="206.60" y2="255.50" stroke="#c8c8c8" stroke-width="0.4" stroke-dasharray="0.8 0.6"/>
<text transform="translate(222.30,219.00) rotate(-90)" x="0" y="1.40" font-size="3.9" fill="#5a5a5a" text-anchor="middle" textLength="2.80" lengthAdjust="spacingAndGlyphs" >p.</text>
<text transform="translate(222.30,210.30) rotate(-90)" x="0" y="1.40" font-size="3.9" fill="#5a5a5a" text-anchor="middle" textLength="12.20" lengthAdjust="spacingAndGlyphs" >L21V</text>
<line x1="222.30" y1="222.50" x2="222.30" y2="255.50" stroke="#c8c8c8" stroke-width="0.4" stroke-dasharray="0.8 0.6"/>
<text transform="translate(255.80,219.00) rotate(-90)" x="0" y="1.40" font-size="3.9" fill="#5a5a5a" text-anchor="middle" textLength="2.80" lengthAdjust="spacingAndGlyphs" >p.</text>
<text transform="translate(255.80,210.30) rotate(-90)" x="0" y="1.40" font-size="3.9" fill="#5a5a5a" text-anchor="middle" textLength="12.20" lengthAdjust="spacingAndGlyphs" >E7X</text>
<line x1="255.80" y1="222.50" x2="255.80" y2="255.50" stroke="#c8c8c8" stroke-width="0.4" stroke-dasharray="0.8 0.6"/>
<text transform="translate(266.20,219.00) rotate(-90)" x="0" y="1.40" font-size="3.9" fill="#5a5a5a" text-anchor="middle" textLength="2.80" lengthAdjust="spacingAndGlyphs" >p.</text>
<text transform="translate(266.20,210.70) rotate(-90)" x="0" y="1.40" font-size="3.9" fill="#5a5a5a" text-anchor="middle" textLength="11.40" lengthAdjust="spacingAndGlyphs" >Q52fs</text>
<line x1="266.20" y1="222.50" x2="266.20" y2="255.50" stroke="#c8c8c8" stroke-width="0.4" stroke-dasharray="0.8 0.6"/>
<text transform="translate(270.20,219.00) rotate(-90)" x="0" y="1.40" font-size="3.9" fill="#5a5a5a" text-anchor="middle" textLength="2.80" lengthAdjust="spacingAndGlyphs" >p.</text>
<text transform="translate(270.20,209.70) rotate(-90)" x="0" y="1.40" font-size="3.9" fill="#5a5a5a" text-anchor="middle" textLength="13.40" lengthAdjust="spacingAndGlyphs" >R164W</text>
<line x1="270.20" y1="222.50" x2="270.20" y2="255.50" stroke="#c8c8c8" stroke-width="0.4" stroke-dasharray="0.8 0.6"/>
<text transform="translate(274.00,219.00) rotate(-90)" x="0" y="1.40" font-size="3.9" fill="#5a5a5a" text-anchor="middle" textLength="2.80" lengthAdjust="spacingAndGlyphs" >p.</text>
<text transform="translate(274.00,209.70) rotate(-90)" x="0" y="1.40" font-size="3.9" fill="#5a5a5a" text-anchor="middle" textLength="13.40" lengthAdjust="spacingAndGlyphs" >T227M</text>
<line x1="274.00" y1="222.50" x2="274.00" y2="255.50" stroke="#c8c8c8" stroke-width="0.4" stroke-dasharray="0.8 0.6"/>
<text transform="translate(277.70,219.00) rotate(-90)" x="0" y="1.40" font-size="3.9" fill="#5a5a5a" text-anchor="middle" textLength="2.80" lengthAdjust="spacingAndGlyphs" >p.</text>
<text transform="translate(277.70,209.70) rotate(-90)" x="0" y="1.40" font-size="3.9" fill="#5a5a5a" text-anchor="middle" textLength="13.40" lengthAdjust="spacingAndGlyphs" >S21L</text>
<line x1="277.70" y1="222.50" x2="277.70" y2="255.50" stroke="#c8c8c8" stroke-width="0.4" stroke-dasharray="0.8 0.6"/>
<text transform="translate(281.50,219.00) rotate(-90)" x="0" y="1.40" font-size="3.9" fill="#c8506e" text-anchor="middle" textLength="2.80" lengthAdjust="spacingAndGlyphs" >p.</text>
<text transform="translate(281.50,209.70) rotate(-90)" x="0" y="1.40" font-size="3.9" fill="#c8506e" text-anchor="middle" textLength="13.40" lengthAdjust="spacingAndGlyphs" >A201T</text>
<line x1="281.50" y1="222.50" x2="281.50" y2="255.50" stroke="#c8c8c8" stroke-width="0.4" stroke-dasharray="0.8 0.6"/>
<text transform="translate(284.60,219.00) rotate(-90)" x="0" y="1.40" font-size="3.9" fill="#c8506e" text-anchor="middle" textLength="2.80" lengthAdjust="spacingAndGlyphs" >p.</text>
<text transform="translate(284.60,204.30) rotate(-90)" x="0" y="1.40" font-size="3.9" fill="#c8506e" text-anchor="middle" textLength="24.20" lengthAdjust="spacingAndGlyphs" >M1I</text>
<line x1="284.60" y1="222.50" x2="284.60" y2="255.50" stroke="#c8c8c8" stroke-width="0.4" stroke-dasharray="0.8 0.6"/>
<text transform="translate(289.00,219.00) rotate(-90)" x="0" y="1.40" font-size="3.9" fill="#c8506e" text-anchor="middle" textLength="2.80" lengthAdjust="spacingAndGlyphs" >p.</text>
<text transform="translate(289.00,209.70) rotate(-90)" x="0" y="1.40" font-size="3.9" fill="#c8506e" text-anchor="middle" textLength="13.40" lengthAdjust="spacingAndGlyphs" >R53W</text>
<line x1="289.00" y1="222.50" x2="289.00" y2="255.50" stroke="#c8c8c8" stroke-width="0.4" stroke-dasharray="0.8 0.6"/>
<text transform="translate(296.20,219.00) rotate(-90)" x="0" y="1.40" font-size="3.9" fill="#c8506e" text-anchor="middle" textLength="2.80" lengthAdjust="spacingAndGlyphs" >p.</text>
<text transform="translate(296.20,210.70) rotate(-90)" x="0" y="1.40" font-size="3.9" fill="#c8506e" text-anchor="middle" textLength="11.40" lengthAdjust="spacingAndGlyphs" >D140fs</text>
<line x1="296.20" y1="222.50" x2="296.20" y2="255.50" stroke="#c8c8c8" stroke-width="0.4" stroke-dasharray="0.8 0.6"/>
<text transform="translate(300.00,219.00) rotate(-90)" x="0" y="1.40" font-size="3.9" fill="#c8506e" text-anchor="middle" textLength="2.80" lengthAdjust="spacingAndGlyphs" >p.</text>
<text transform="translate(300.00,210.70) rotate(-90)" x="0" y="1.40" font-size="3.9" fill="#c8506e" text-anchor="middle" textLength="11.40" lengthAdjust="spacingAndGlyphs" >A225T</text>
<line x1="300.00" y1="222.50" x2="300.00" y2="255.50" stroke="#c8c8c8" stroke-width="0.4" stroke-dasharray="0.8 0.6"/>
<text transform="translate(304.00,219.00) rotate(-90)" x="0" y="1.40" font-size="3.9" fill="#5a5a5a" text-anchor="middle" textLength="2.80" lengthAdjust="spacingAndGlyphs" >p.</text>
<text transform="translate(304.00,210.70) rotate(-90)" x="0" y="1.40" font-size="3.9" fill="#5a5a5a" text-anchor="middle" textLength="11.40" lengthAdjust="spacingAndGlyphs" >V152G</text>
<line x1="304.00" y1="222.50" x2="304.00" y2="255.50" stroke="#c8c8c8" stroke-width="0.4" stroke-dasharray="0.8 0.6"/>
<text transform="translate(384.60,219.00) rotate(-90)" x="0" y="1.40" font-size="3.9" fill="#5a5a5a" text-anchor="middle" textLength="2.80" lengthAdjust="spacingAndGlyphs" >p.</text>
<text transform="translate(384.60,210.05) rotate(-90)" x="0" y="1.40" font-size="3.9" fill="#5a5a5a" text-anchor="middle" textLength="12.70" lengthAdjust="spacingAndGlyphs" >G173R</text>
<line x1="384.60" y1="222.50" x2="384.60" y2="255.50" stroke="#c8c8c8" stroke-width="0.4" stroke-dasharray="0.8 0.6"/>
<text transform="translate(425.60,219.00) rotate(-90)" x="0" y="1.40" font-size="3.9" fill="#5a5a5a" text-anchor="middle" textLength="2.80" lengthAdjust="spacingAndGlyphs" >p.</text>
<text transform="translate(425.60,210.05) rotate(-90)" x="0" y="1.40" font-size="3.9" fill="#5a5a5a" text-anchor="middle" textLength="12.70" lengthAdjust="spacingAndGlyphs" >P30A</text>
<line x1="425.60" y1="222.50" x2="425.60" y2="255.50" stroke="#c8c8c8" stroke-width="0.4" stroke-dasharray="0.8 0.6"/>
<text transform="translate(436.90,219.00) rotate(-90)" x="0" y="1.40" font-size="3.9" fill="#5a5a5a" text-anchor="middle" textLength="2.80" lengthAdjust="spacingAndGlyphs" >p.</text>
<text transform="translate(436.90,210.05) rotate(-90)" x="0" y="1.40" font-size="3.9" fill="#5a5a5a" text-anchor="middle" textLength="12.70" lengthAdjust="spacingAndGlyphs" >L21V</text>
<line x1="436.90" y1="222.50" x2="436.90" y2="255.50" stroke="#c8c8c8" stroke-width="0.4" stroke-dasharray="0.8 0.6"/>
<text transform="translate(462.50,219.00) rotate(-90)" x="0" y="1.40" font-size="3.9" fill="#5a5a5a" text-anchor="middle" textLength="2.80" lengthAdjust="spacingAndGlyphs" >p.</text>
<text transform="translate(462.50,210.05) rotate(-90)" x="0" y="1.40" font-size="3.9" fill="#5a5a5a" text-anchor="middle" textLength="12.70" lengthAdjust="spacingAndGlyphs" >E7X</text>
<line x1="462.50" y1="222.50" x2="462.50" y2="255.50" stroke="#c8c8c8" stroke-width="0.4" stroke-dasharray="0.8 0.6"/>
<polyline points="45.20,245.40 45.20,262.00 47.50,266.50 47.50,272.40" fill="none" stroke="#3a3a4a" stroke-width="0.65"/>
<polyline points="49.00,258.30 49.00,262.00 47.50,266.50 47.50,272.40" fill="none" stroke="#3a3a4a" stroke-width="0.65"/>
<polyline points="70.80,258.30 70.80,262.00 72.10,266.50 72.10,272.40" fill="none" stroke="#3a3a4a" stroke-width="0.65"/>
<polyline points="75.20,258.30 75.20,262.00 77.90,266.50 77.90,272.40" fill="none" stroke="#3a3a4a" stroke-width="0.65"/>
<polyline points="81.90,252.50 81.90,262.00 81.70,266.50 81.70,272.40" fill="none" stroke="#3a3a4a" stroke-width="0.65"/>
<polyline points="85.80,258.80 85.80,262.00 86.50,266.50 86.50,272.40" fill="none" stroke="#3a3a4a" stroke-width="0.65"/>
<polyline points="89.60,258.80 89.60,262.00 86.50,266.50 86.50,272.40" fill="none" stroke="#3a3a4a" stroke-width="0.65"/>
<polyline points="93.00,258.00 93.00,262.00 91.30,266.50 91.30,272.40" fill="none" stroke="#3a3a4a" stroke-width="0.65"/>
<polyline points="96.70,258.80 96.70,262.00 98.50,266.50 98.50,272.40" fill="none" stroke="#3a3a4a" stroke-width="0.65"/>
<polyline points="126.50,258.80 126.50,262.00 126.50,266.50 126.50,272.40" fill="none" stroke="#3a3a4a" stroke-width="0.65"/>
<polyline points="144.80,258.50 144.80,262.00 144.00,266.50 144.00,272.40" fill="none" stroke="#3a3a4a" stroke-width="0.65"/>
<polyline points="148.70,235.80 148.70,262.00 149.80,266.50 149.80,272.40" fill="none" stroke="#3a3a4a" stroke-width="0.65"/>
<polyline points="151.90,258.50 151.90,262.00 152.70,266.50 152.70,272.40" fill="none" stroke="#3a3a4a" stroke-width="0.65"/>
<polyline points="155.40,258.50 155.40,262.00 157.50,266.50 157.50,272.40" fill="none" stroke="#3a3a4a" stroke-width="0.65"/>
<polyline points="159.60,258.50 159.60,262.00 161.20,266.50 161.20,272.40" fill="none" stroke="#3a3a4a" stroke-width="0.65"/>
<polyline points="166.90,258.50 166.90,262.00 166.90,266.50 166.90,272.40" fill="none" stroke="#3a3a4a" stroke-width="0.65"/>
<polyline points="170.80,258.50 170.80,262.00 172.70,266.50 172.70,272.40" fill="none" stroke="#3a3a4a" stroke-width="0.65"/>
<polyline points="177.60,258.50 177.60,262.00 176.50,266.50 176.50,272.40" fill="none" stroke="#3a3a4a" stroke-width="0.65"/>
<polyline points="181.90,258.50 181.90,262.00 181.50,266.50 181.50,272.40" fill="none" stroke="#3a3a4a" stroke-width="0.65"/>
<polyline points="199.80,258.50 199.80,262.00 199.20,266.50 199.20,272.40" fill="none" stroke="#3a3a4a" stroke-width="0.65"/>
<polyline points="207.50,258.50 207.50,262.00 207.90,266.50 207.90,272.40" fill="none" stroke="#3a3a4a" stroke-width="0.65"/>
<polyline points="222.30,257.90 222.30,262.00 221.30,266.50 221.30,272.40" fill="none" stroke="#3a3a4a" stroke-width="0.65"/>
<polyline points="255.60,258.50 255.60,262.00 255.60,266.50 255.60,272.40" fill="none" stroke="#3a3a4a" stroke-width="0.65"/>
<polyline points="266.50,258.50 266.50,262.00 265.20,266.50 265.20,272.40" fill="none" stroke="#3a3a4a" stroke-width="0.65"/>
<polyline points="270.40,258.50 270.40,262.00 269.80,266.50 269.80,272.40" fill="none" stroke="#3a3a4a" stroke-width="0.65"/>
<polyline points="274.20,258.50 274.20,262.00 275.80,266.50 275.80,272.40" fill="none" stroke="#3a3a4a" stroke-width="0.65"/>
<polyline points="277.70,258.50 277.70,262.00 278.00,266.50 278.00,272.40" fill="none" stroke="#3a3a4a" stroke-width="0.65"/>
<polyline points="281.50,258.50 281.50,262.00 283.30,266.50 283.30,272.40" fill="none" stroke="#3a3a4a" stroke-width="0.65"/>
<polyline points="284.80,250.20 284.80,262.00 286.90,266.50 286.90,272.40" fill="none" stroke="#3a3a4a" stroke-width="0.65"/>
<polyline points="289.20,258.50 289.20,262.00 286.90,266.50 286.90,272.40" fill="none" stroke="#3a3a4a" stroke-width="0.65"/>
<polyline points="296.30,258.50 296.30,262.00 295.80,266.50 295.80,272.40" fill="none" stroke="#3a3a4a" stroke-width="0.65"/>
<polyline points="300.20,258.50 300.20,262.00 299.20,266.50 299.20,272.40" fill="none" stroke="#3a3a4a" stroke-width="0.65"/>
<polyline points="304.00,258.50 304.00,262.00 304.60,266.50 304.60,272.40" fill="none" stroke="#3a3a4a" stroke-width="0.65"/>
<polyline points="385.20,258.50 385.20,262.00 385.50,266.50 385.50,272.40" fill="none" stroke="#3a3a4a" stroke-width="0.65"/>
<polyline points="425.60,258.50 425.60,262.00 425.20,266.50 425.20,272.40" fill="none" stroke="#3a3a4a" stroke-width="0.65"/>
<polyline points="436.90,258.50 436.90,262.00 436.70,266.50 436.70,272.40" fill="none" stroke="#3a3a4a" stroke-width="0.65"/>
<polyline points="462.30,258.50 462.30,262.00 462.60,266.50 462.60,272.40" fill="none" stroke="#3a3a4a" stroke-width="0.65"/>
<line x1="47.30" y1="286.50" x2="47.30" y2="312.70" stroke="#55555f" stroke-width="0.65" />
<line x1="72.10" y1="286.50" x2="72.10" y2="297.30" stroke="#55555f" stroke-width="0.65" />
<line x1="77.90" y1="286.50" x2="77.90" y2="295.50" stroke="#55555f" stroke-width="0.65" />
<line x1="81.70" y1="286.50" x2="81.70" y2="295.50" stroke="#55555f" stroke-width="0.65" />
<line x1="86.50" y1="286.50" x2="86.50" y2="295.50" stroke="#55555f" stroke-width="0.65" />
<line x1="91.30" y1="286.50" x2="91.30" y2="295.50" stroke="#55555f" stroke-width="0.65" />
<line x1="98.50" y1="286.50" x2="98.50" y2="295.50" stroke="#55555f" stroke-width="0.65" />
<line x1="126.50" y1="286.50" x2="126.50" y2="295.60" stroke="#55555f" stroke-width="0.65" />
<line x1="144.00" y1="286.50" x2="144.00" y2="295.30" stroke="#55555f" stroke-width="0.65" />
<line x1="149.80" y1="286.50" x2="149.80" y2="316.30" stroke="#55555f" stroke-width="0.65" />
<line x1="152.70" y1="286.50" x2="152.70" y2="295.40" stroke="#55555f" stroke-width="0.65" />
<line x1="157.50" y1="286.50" x2="157.50" y2="329.80" stroke="#55555f" stroke-width="0.65" />
<line x1="161.20" y1="286.50" x2="161.20" y2="295.20" stroke="#55555f" stroke-width="0.65" />
<line x1="166.90" y1="286.50" x2="166.90" y2="295.20" stroke="#55555f" stroke-width="0.65" />
<line x1="172.50" y1="286.50" x2="172.50" y2="305.30" stroke="#55555f" stroke-width="0.65" />
<line x1="176.60" y1="286.50" x2="176.60" y2="295.20" stroke="#55555f" stroke-width="0.65" />
<line x1="181.70" y1="286.50" x2="181.70" y2="295.20" stroke="#55555f" stroke-width="0.65" />
<line x1="199.20" y1="286.50" x2="199.20" y2="304.60" stroke="#55555f" stroke-width="0.65" />
<line x1="207.90" y1="286.50" x2="207.90" y2="295.20" stroke="#55555f" stroke-width="0.65" />
<line x1="221.40" y1="286.50" x2="221.40" y2="295.20" stroke="#55555f" stroke-width="0.65" />
<line x1="255.60" y1="286.50" x2="255.60" y2="295.40" stroke="#55555f" stroke-width="0.65" />
<line x1="265.20" y1="286.50" x2="265.20" y2="296.70" stroke="#55555f" stroke-width="0.65" />
<line x1="269.80" y1="286.50" x2="269.80" y2="316.90" stroke="#55555f" stroke-width="0.65" />
<line x1="275.80" y1="286.50" x2="275.80" y2="295.40" stroke="#55555f" stroke-width="0.65" />
<line x1="278.00" y1="286.50" x2="278.00" y2="295.40" stroke="#55555f" stroke-width="0.65" />
<line x1="283.30" y1="286.50" x2="283.30" y2="298.80" stroke="#55555f" stroke-width="0.65" />
<line x1="286.90" y1="286.50" x2="286.90" y2="295.40" stroke="#55555f" stroke-width="0.65" />
<line x1="295.80" y1="286.50" x2="295.80" y2="297.00" stroke="#55555f" stroke-width="0.65" />
<line x1="299.20" y1="286.50" x2="299.20" y2="295.40" stroke="#55555f" stroke-width="0.65" />
<line x1="304.60" y1="286.50" x2="304.60" y2="295.40" stroke="#55555f" stroke-width="0.65" />
<line x1="385.50" y1="286.50" x2="385.50" y2="295.00" stroke="#55555f" stroke-width="0.65" />
<line x1="425.20" y1="286.50" x2="425.20" y2="295.00" stroke="#55555f" stroke-width="0.65" />
<line x1="436.70" y1="286.50" x2="436.70" y2="295.00" stroke="#55555f" stroke-width="0.65" />
<line x1="462.60" y1="286.50" x2="462.60" y2="295.00" stroke="#55555f" stroke-width="0.65" />
<line x1="47.30" y1="272.00" x2="47.30" y2="287.00" stroke="#30305a" stroke-width="0.6" />
<line x1="47.50" y1="272.00" x2="47.50" y2="287.00" stroke="#30305a" stroke-width="0.6" />
<line x1="72.10" y1="272.00" x2="72.10" y2="287.00" stroke="#30305a" stroke-width="0.6" />
<line x1="77.90" y1="272.00" x2="77.90" y2="287.00" stroke="#30305a" stroke-width="0.6" />
<line x1="81.70" y1="272.00" x2="81.70" y2="287.00" stroke="#30305a" stroke-width="0.6" />
<line x1="86.50" y1="272.00" x2="86.50" y2="287.00" stroke="#30305a" stroke-width="0.6" />
<line x1="91.30" y1="272.00" x2="91.30" y2="287.00" stroke="#30305a" stroke-width="0.6" />
<line x1="98.50" y1="272.00" x2="98.50" y2="287.00" stroke="#30305a" stroke-width="0.6" />
<line x1="126.50" y1="272.00" x2="126.50" y2="287.00" stroke="#30305a" stroke-width="0.6" />
<line x1="144.00" y1="272.00" x2="144.00" y2="287.00" stroke="#30305a" stroke-width="0.6" />
<line x1="149.80" y1="272.00" x2="149.80" y2="287.00" stroke="#30305a" stroke-width="0.6" />
<line x1="152.70" y1="272.00" x2="152.70" y2="287.00" stroke="#30305a" stroke-width="0.6" />
<line x1="157.50" y1="272.00" x2="157.50" y2="287.00" stroke="#30305a" stroke-width="0.6" />
<line x1="161.20" y1="272.00" x2="161.20" y2="287.00" stroke="#30305a" stroke-width="0.6" />
<line x1="166.90" y1="272.00" x2="166.90" y2="287.00" stroke="#30305a" stroke-width="0.6" />
<line x1="172.50" y1="272.00" x2="172.50" y2="287.00" stroke="#30305a" stroke-width="0.6" />
<line x1="172.70" y1="272.00" x2="172.70" y2="287.00" stroke="#30305a" stroke-width="0.6" />
<line x1="176.50" y1="272.00" x2="176.50" y2="287.00" stroke="#30305a" stroke-width="0.6" />
<line x1="176.60" y1="272.00" x2="176.60" y2="287.00" stroke="#30305a" stroke-width="0.6" />
<line x1="181.50" y1="272.00" x2="181.50" y2="287.00" stroke="#30305a" stroke-width="0.6" />
<line x1="181.70" y1="272.00" x2="181.70" y2="287.00" stroke="#30305a" stroke-width="0.6" />
<line x1="199.20" y1="272.00" x2="199.20" y2="287.00" stroke="#30305a" stroke-width="0.6" />
<line x1="207.90" y1="272.00" x2="207.90" y2="287.00" stroke="#30305a" stroke-width="0.6" />
<line x1="221.30" y1="272.00" x2="221.30" y2="287.00" stroke="#30305a" stroke-width="0.6" />
<line x1="221.40" y1="272.00" x2="221.40" y2="287.00" stroke="#30305a" stroke-width="0.6" />
<line x1="255.60" y1="272.00" x2="255.60" y2="287.00" stroke="#30305a" stroke-width="0.6" />
<line x1="265.20" y1="272.00" x2="265.20" y2="287.00" stroke="#30305a" stroke-width="0.6" />
<line x1="269.80" y1="272.00" x2="269.80" y2="287.00" stroke="#30305a" stroke-width="0.6" />
<line x1="275.80" y1="272.00" x2="275.80" y2="287.00" stroke="#30305a" stroke-width="0.6" />
<line x1="278.00" y1="272.00" x2="278.00" y2="287.00" stroke="#30305a" stroke-width="0.6" />
<line x1="283.30" y1="272.00" x2="283.30" y2="287.00" stroke="#30305a" stroke-width="0.6" />
<line x1="286.90" y1="272.00" x2="286.90" y2="287.00" stroke="#30305a" stroke-width="0.6" />
<line x1="295.80" y1="272.00" x2="295.80" y2="287.00" stroke="#30305a" stroke-width="0.6" />
<line x1="299.20" y1="272.00" x2="299.20" y2="287.00" stroke="#30305a" stroke-width="0.6" />
<line x1="304.60" y1="272.00" x2="304.60" y2="287.00" stroke="#30305a" stroke-width="0.6" />
<line x1="385.50" y1="272.00" x2="385.50" y2="287.00" stroke="#30305a" stroke-width="0.6" />
<line x1="425.20" y1="272.00" x2="425.20" y2="287.00" stroke="#30305a" stroke-width="0.6" />
<line x1="436.70" y1="272.00" x2="436.70" y2="287.00" stroke="#30305a" stroke-width="0.6" />
<line x1="462.60" y1="272.00" x2="462.60" y2="287.00" stroke="#30305a" stroke-width="0.6" />
<circle cx="45.20" cy="245.40" r="1.80" fill="#c8842a" stroke="#9a6018" stroke-width="0.5"/>
<circle cx="49.00" cy="258.30" r="1.60" fill="#fffaf0" stroke="#c8842a" stroke-width="0.8"/>
<circle cx="70.80" cy="258.30" r="1.60" fill="#fffaf0" stroke="#c8842a" stroke-width="0.8"/>
<circle cx="75.20" cy="258.30" r="1.60" fill="#fffaf0" stroke="#c8842a" stroke-width="0.8"/>
<circle cx="81.90" cy="252.50" r="1.80" fill="#c8842a" stroke="#9a6018" stroke-width="0.5"/>
<circle cx="85.80" cy="258.80" r="1.80" fill="#c8842a" stroke="#9a6018" stroke-width="0.5"/>
<circle cx="89.60" cy="258.80" r="1.60" fill="#fffaf0" stroke="#c8842a" stroke-width="0.8"/>
<circle cx="93.00" cy="258.00" r="1.60" fill="#fffaf0" stroke="#c8842a" stroke-width="0.8"/>
<circle cx="96.70" cy="258.80" r="1.80" fill="#c8842a" stroke="#9a6018" stroke-width="0.5"/>
<circle cx="126.50" cy="258.80" r="1.80" fill="#c8842a" stroke="#9a6018" stroke-width="0.5"/>
<circle cx="144.80" cy="258.50" r="1.60" fill="#fffaf0" stroke="#c8842a" stroke-width="0.8"/>
<circle cx="148.70" cy="235.80" r="1.80" fill="#c8842a" stroke="#9a6018" stroke-width="0.5"/>
<circle cx="151.90" cy="258.50" r="1.80" fill="#c8842a" stroke="#9a6018" stroke-width="0.5"/>
<circle cx="155.40" cy="258.50" r="1.80" fill="#c8842a" stroke="#9a6018" stroke-width="0.5"/>
<circle cx="159.60" cy="258.50" r="1.60" fill="#fffaf0" stroke="#c8842a" stroke-width="0.8"/>
<circle cx="166.90" cy="258.50" r="1.80" fill="#c8842a" stroke="#9a6018" stroke-width="0.5"/>
<circle cx="170.80" cy="258.50" r="1.60" fill="#fffaf0" stroke="#c8842a" stroke-width="0.8"/>
<circle cx="177.60" cy="258.50" r="1.80" fill="#c8842a" stroke="#9a6018" stroke-width="0.5"/>
<circle cx="181.90" cy="258.50" r="1.80" fill="#c8842a" stroke="#9a6018" stroke-width="0.5"/>
<circle cx="199.80" cy="258.50" r="1.60" fill="#fffaf0" stroke="#c8842a" stroke-width="0.8"/>
<circle cx="207.50" cy="258.50" r="1.80" fill="#c8842a" stroke="#9a6018" stroke-width="0.5"/>
<circle cx="222.30" cy="257.90" r="1.80" fill="#c8842a" stroke="#9a6018" stroke-width="0.5"/>
<circle cx="255.60" cy="258.50" r="1.80" fill="#c8842a" stroke="#9a6018" stroke-width="0.5"/>
<circle cx="266.50" cy="258.50" r="1.60" fill="#fffaf0" stroke="#c8842a" stroke-width="0.8"/>
<circle cx="270.40" cy="258.50" r="1.80" fill="#c8842a" stroke="#9a6018" stroke-width="0.5"/>
<circle cx="274.20" cy="258.50" r="1.60" fill="#fffaf0" stroke="#c8842a" stroke-width="0.8"/>
<circle cx="277.70" cy="258.50" r="1.60" fill="#fffaf0" stroke="#c8842a" stroke-width="0.8"/>
<circle cx="281.50" cy="258.50" r="1.80" fill="#c8842a" stroke="#9a6018" stroke-width="0.5"/>
<circle cx="284.80" cy="250.20" r="1.80" fill="#c8842a" stroke="#9a6018" stroke-width="0.5"/>
<circle cx="289.20" cy="258.50" r="1.80" fill="#c8842a" stroke="#9a6018" stroke-width="0.5"/>
<circle cx="296.30" cy="258.50" r="1.60" fill="#fffaf0" stroke="#c8842a" stroke-width="0.8"/>
<circle cx="300.20" cy="258.50" r="1.80" fill="#c8842a" stroke="#9a6018" stroke-width="0.5"/>
<circle cx="304.00" cy="258.50" r="1.60" fill="#fffaf0" stroke="#c8842a" stroke-width="0.8"/>
<circle cx="385.20" cy="258.50" r="1.80" fill="#c8842a" stroke="#9a6018" stroke-width="0.5"/>
<circle cx="425.60" cy="258.50" r="1.80" fill="#c8842a" stroke="#9a6018" stroke-width="0.5"/>
<circle cx="436.90" cy="258.50" r="1.80" fill="#c8842a" stroke="#9a6018" stroke-width="0.5"/>
<circle cx="462.30" cy="258.50" r="1.60" fill="#fffaf0" stroke="#c8842a" stroke-width="0.8"/>
<circle cx="47.30" cy="312.70" r="1.75" fill="#1a2a28" stroke="#0a1412" stroke-width="0.4"/>
<circle cx="72.10" cy="297.30" r="1.75" fill="#5a93cf" stroke="#4a80b8" stroke-width="0.4"/>
<circle cx="77.90" cy="295.50" r="1.75" fill="#5a93cf" stroke="#4a80b8" stroke-width="0.4"/>
<circle cx="81.70" cy="295.50" r="1.75" fill="#8a5a28" stroke="#5a3410" stroke-width="0.4"/>
<circle cx="86.50" cy="295.50" r="1.75" fill="#5a93cf" stroke="#4a80b8" stroke-width="0.4"/>
<circle cx="91.30" cy="295.50" r="1.75" fill="#5a93cf" stroke="#4a80b8" stroke-width="0.4"/>
<circle cx="98.50" cy="295.50" r="1.75" fill="#5a93cf" stroke="#4a80b8" stroke-width="0.4"/>
<circle cx="126.50" cy="295.60" r="1.75" fill="#8a5a28" stroke="#5a3410" stroke-width="0.4"/>
<circle cx="144.00" cy="295.30" r="1.75" fill="#5a93cf" stroke="#4a80b8" stroke-width="0.4"/>
<circle cx="149.80" cy="316.30" r="1.75" fill="#8a5a28" stroke="#5a3410" stroke-width="0.4"/>
<circle cx="152.70" cy="295.40" r="1.75" fill="#9a1050" stroke="#6a0838" stroke-width="0.4"/>
<circle cx="157.50" cy="329.80" r="1.75" fill="#5a93cf" stroke="#4a80b8" stroke-width="0.4"/>
<circle cx="161.20" cy="295.20" r="1.75" fill="#5a93cf" stroke="#4a80b8" stroke-width="0.4"/>
<circle cx="166.90" cy="295.20" r="1.75" fill="#6a8ad0" stroke="#2a3a78" stroke-width="0.6"/>
<circle cx="172.50" cy="305.30" r="1.75" fill="#5a93cf" stroke="#4a80b8" stroke-width="0.4"/>
<circle cx="176.60" cy="295.20" r="1.75" fill="#6a8ad0" stroke="#2a3a78" stroke-width="0.6"/>
<circle cx="181.70" cy="295.20" r="1.75" fill="#5a93cf" stroke="#4a80b8" stroke-width="0.4"/>
<circle cx="199.20" cy="304.60" r="1.75" fill="#5a93cf" stroke="#4a80b8" stroke-width="0.4"/>
<circle cx="207.90" cy="295.20" r="1.75" fill="#6a8ad0" stroke="#2a3a78" stroke-width="0.6"/>
<circle cx="221.40" cy="295.20" r="1.75" fill="#5a93cf" stroke="#4a80b8" stroke-width="0.4"/>
<circle cx="255.60" cy="295.40" r="1.75" fill="#5a93cf" stroke="#4a80b8" stroke-width="0.4"/>
<circle cx="265.20" cy="296.70" r="1.75" fill="#5a93cf" stroke="#4a80b8" stroke-width="0.4"/>
<circle cx="269.80" cy="316.90" r="1.75" fill="#5a93cf" stroke="#4a80b8" stroke-width="0.4"/>
<circle cx="275.80" cy="295.40" r="1.75" fill="#5a93cf" stroke="#4a80b8" stroke-width="0.4"/>
<circle cx="278.00" cy="295.40" r="1.75" fill="#6a8ad0" stroke="#2a3a78" stroke-width="0.6"/>
<circle cx="283.30" cy="298.80" r="1.75" fill="#8a5a28" stroke="#5a3410" stroke-width="0.4"/>
<circle cx="286.90" cy="295.40" r="1.75" fill="#5a93cf" stroke="#4a80b8" stroke-width="0.4"/>
<circle cx="295.80" cy="297.00" r="1.75" fill="#6a8ad0" stroke="#2a3a78" stroke-width="0.6"/>
<circle cx="299.20" cy="295.40" r="1.75" fill="#6a8ad0" stroke="#2a3a78" stroke-width="0.6"/>
<circle cx="304.60" cy="295.40" r="1.75" fill="#5a93cf" stroke="#4a80b8" stroke-width="0.4"/>
<circle cx="385.50" cy="295.00" r="1.75" fill="#5a93cf" stroke="#4a80b8" stroke-width="0.4"/>
<circle cx="425.20" cy="295.00" r="1.75" fill="#5a93cf" stroke="#4a80b8" stroke-width="0.4"/>
<circle cx="436.70" cy="295.00" r="1.75" fill="#5a93cf" stroke="#4a80b8" stroke-width="0.4"/>
<circle cx="462.60" cy="295.00" r="1.75" fill="#5a93cf" stroke="#4a80b8" stroke-width="0.4"/>
<text x="122.50" y="278.46" font-size="6" fill="#2a3a30" text-anchor="middle" textLength="18.00" lengthAdjust="spacingAndGlyphs" >Coiled</text>
<text x="122.50" y="284.46" font-size="6" fill="#2a3a30" text-anchor="middle" textLength="11.00" lengthAdjust="spacingAndGlyphs" >coil</text>
<text x="191.20" y="277.46" font-size="6" fill="#2a3a20" text-anchor="middle" >Q</text>
<text x="191.20" y="284.16" font-size="6" fill="#2a3a20" text-anchor="middle" textLength="15.00" lengthAdjust="spacingAndGlyphs" >motif</text>
<text x="265.80" y="281.95" font-size="6.8" fill="#2a2450" text-anchor="middle" textLength="31.30" lengthAdjust="spacingAndGlyphs" >DEAD box</text>
<text x="408.00" y="281.25" font-size="6.8" fill="#223" text-anchor="middle" textLength="24.00" lengthAdjust="spacingAndGlyphs" >Helicase</text>
<text x="484.70" y="277.66" font-size="6" fill="#2a3a10" text-anchor="middle" textLength="11.50" lengthAdjust="spacingAndGlyphs" >Zinc</text>
<text x="484.70" y="283.76" font-size="6" fill="#2a3a10" text-anchor="middle" textLength="15.30" lengthAdjust="spacingAndGlyphs" >finger</text>
<circle cx="221.90" cy="187.10" r="1.80" fill="#c8842a" stroke="#b8741c" stroke-width="0.4"/>
<text x="227.30" y="189.62" font-size="7" fill="#333" textLength="27.30" lengthAdjust="spacingAndGlyphs" >MDS/AML</text>
<circle cx="264.60" cy="187.10" r="1.60" fill="#fff" stroke="#c8842a" stroke-width="0.6"/>
<text x="270.00" y="189.62" font-size="7" fill="#333" textLength="12.90" lengthAdjust="spacingAndGlyphs" >MPN</text>
<text x="291.90" y="189.62" font-size="7" fill="#c45a72" textLength="29.60" lengthAdjust="spacingAndGlyphs" >Pathogenic</text>
<text x="321.50" y="189.62" font-size="7" fill="#333" textLength="13.30" lengthAdjust="spacingAndGlyphs" >/VUS</text>
<circle cx="148.30" cy="338.50" r="1.80" fill="#1a2a28" stroke="none" stroke-width="0.6"/>
<text x="154.00" y="340.91" font-size="6.7" fill="#333" textLength="23.00" lengthAdjust="spacingAndGlyphs" >Start lost</text>
<circle cx="196.90" cy="338.50" r="1.80" fill="#8a5a28" stroke="#5a3410" stroke-width="0.4"/>
<text x="202.70" y="340.91" font-size="6.7" fill="#333" textLength="27.60" lengthAdjust="spacingAndGlyphs" >Truncating</text>
<circle cx="249.50" cy="338.30" r="1.80" fill="#9a1050" stroke="none" stroke-width="0.6"/>
<text x="255.00" y="340.71" font-size="6.7" fill="#333" textLength="45.20" lengthAdjust="spacingAndGlyphs" >Splice site variant</text>
<circle cx="323.80" cy="338.20" r="1.80" fill="#5a93cf" stroke="none" stroke-width="0.6"/>
<text x="328.10" y="340.61" font-size="6.7" fill="#333" text-anchor="middle" >/</text>
<circle cx="332.30" cy="338.20" r="1.80" fill="#6a8ad0" stroke="#2a3a78" stroke-width="0.6"/>
<text x="337.50" y="340.61" font-size="6.7" fill="#333" textLength="71.50" lengthAdjust="spacingAndGlyphs" >Missense - VUS/Pathogenic</text>
<text x="6.8" y="364.0" font-size="9.4" font-weight="bold" fill="#111" textLength="6.0" lengthAdjust="spacingAndGlyphs">E</text>
<text x="70.40" y="376.17" font-size="8.8" fill="#333" text-anchor="middle" textLength="55.20" lengthAdjust="spacingAndGlyphs" >Hematological</text>
<text x="70.00" y="386.37" font-size="8.8" fill="#333" text-anchor="middle" textLength="27.00" lengthAdjust="spacingAndGlyphs" >disease</text>
<text x="193.00" y="376.27" font-size="8.8" fill="#333" text-anchor="middle" textLength="26.40" lengthAdjust="spacingAndGlyphs" >Cancer</text>
<text x="328.00" y="376.90" font-size="8.6" fill="#333" text-anchor="middle" textLength="71.70" lengthAdjust="spacingAndGlyphs" >Family history of</text>
<text x="325.50" y="386.60" font-size="8.6" fill="#333" text-anchor="middle" textLength="80.60" lengthAdjust="spacingAndGlyphs" >malignant neoplasm</text>
<text x="422.30" y="376.90" font-size="8.6" fill="#333" text-anchor="middle" textLength="49.00" lengthAdjust="spacingAndGlyphs" >Autoimmune</text>
<text x="422.70" y="386.60" font-size="8.6" fill="#333" text-anchor="middle" textLength="29.50" lengthAdjust="spacingAndGlyphs" >disease</text>
<text x="455.6" y="374.3" font-size="6" fill="#333" textLength="50.5" lengthAdjust="spacingAndGlyphs">* <tspan font-style="italic">P</tspan> adjusted &lt; .05</text>
<rect x="43.60" y="391.30" width="7.62" height="7.62" fill="#f0c88a" stroke="#dcdcdc" stroke-width="0.35"/>
<circle cx="47.41" cy="395.11" r="0.90" fill="#3a1a08" stroke="none" stroke-width="0.6"/>
<rect x="43.60" y="398.92" width="7.62" height="7.62" fill="#f0c88a" stroke="#dcdcdc" stroke-width="0.35"/>
<circle cx="47.41" cy="402.73" r="0.90" fill="#3a1a08" stroke="none" stroke-width="0.6"/>
<rect x="43.60" y="406.54" width="7.62" height="7.62" fill="#f2d498" stroke="#dcdcdc" stroke-width="0.35"/>
<rect x="43.60" y="414.16" width="7.62" height="7.62" fill="#fbf6ee" stroke="#dcdcdc" stroke-width="0.35"/>
<rect x="51.22" y="391.30" width="7.62" height="7.62" fill="#d9762e" stroke="#dcdcdc" stroke-width="0.35"/>
<circle cx="55.03" cy="395.11" r="0.90" fill="#3a1a08" stroke="none" stroke-width="0.6"/>
<rect x="51.22" y="398.92" width="7.62" height="7.62" fill="#d26a28" stroke="#dcdcdc" stroke-width="0.35"/>
<circle cx="55.03" cy="402.73" r="0.90" fill="#3a1a08" stroke="none" stroke-width="0.6"/>
<rect x="51.22" y="406.54" width="7.62" height="7.62" fill="#eec480" stroke="#dcdcdc" stroke-width="0.35"/>
<rect x="51.22" y="414.16" width="7.62" height="7.62" fill="#fbf4ea" stroke="#dcdcdc" stroke-width="0.35"/>
<rect x="58.84" y="391.30" width="7.62" height="7.62" fill="#8a86cc" stroke="#dcdcdc" stroke-width="0.35"/>
<rect x="58.84" y="398.92" width="7.62" height="7.62" fill="#f6e0b0" stroke="#dcdcdc" stroke-width="0.35"/>
<rect x="58.84" y="406.54" width="7.62" height="7.62" fill="#fcf8f2" stroke="#dcdcdc" stroke-width="0.35"/>
<rect x="58.84" y="414.16" width="7.62" height="7.62" fill="#fbf4ea" stroke="#dcdcdc" stroke-width="0.35"/>
<rect x="66.46" y="391.30" width="7.62" height="7.62" fill="#5a1808" stroke="#dcdcdc" stroke-width="0.35"/>
<rect x="66.46" y="398.92" width="7.62" height="7.62" fill="#5a1808" stroke="#dcdcdc" stroke-width="0.35"/>
<rect x="66.46" y="406.54" width="7.62" height="7.62" fill="#5a1808" stroke="#dcdcdc" stroke-width="0.35"/>
<rect x="66.46" y="414.16" width="7.62" height="7.62" fill="#fbf2e4" stroke="#dcdcdc" stroke-width="0.35"/>
<rect x="74.08" y="391.30" width="7.62" height="7.62" fill="#5a1808" stroke="#dcdcdc" stroke-width="0.35"/>
<rect x="74.08" y="398.92" width="7.62" height="7.62" fill="#5a1808" stroke="#dcdcdc" stroke-width="0.35"/>
<rect x="74.08" y="406.54" width="7.62" height="7.62" fill="#f4d49a" stroke="#dcdcdc" stroke-width="0.35"/>
<rect x="74.08" y="414.16" width="7.62" height="7.62" fill="#fcf6ee" stroke="#dcdcdc" stroke-width="0.35"/>
<rect x="81.70" y="391.30" width="7.62" height="7.62" fill="#f8f4f4" stroke="#dcdcdc" stroke-width="0.35"/>
<rect x="81.70" y="398.92" width="7.62" height="7.62" fill="#f6e6c6" stroke="#dcdcdc" stroke-width="0.35"/>
<rect x="81.70" y="406.54" width="7.62" height="7.62" fill="#fbf2e6" stroke="#dcdcdc" stroke-width="0.35"/>
<rect x="81.70" y="414.16" width="7.62" height="7.62" fill="#7c70c4" stroke="#dcdcdc" stroke-width="0.35"/>
<rect x="89.32" y="391.30" width="7.62" height="7.62" fill="#f0d090" stroke="#dcdcdc" stroke-width="0.35"/>
<circle cx="93.13" cy="395.11" r="0.90" fill="#3a1a08" stroke="none" stroke-width="0.6"/>
<rect x="89.32" y="398.92" width="7.62" height="7.62" fill="#f6e0b0" stroke="#dcdcdc" stroke-width="0.35"/>
<rect x="89.32" y="406.54" width="7.62" height="7.62" fill="#8c84cc" stroke="#dcdcdc" stroke-width="0.35"/>
<rect x="89.32" y="414.16" width="7.62" height="7.62" fill="#fefefe" stroke="#dcdcdc" stroke-width="0.35"/>
<rect x="101.60" y="391.30" width="7.62" height="7.62" fill="#f4f0ec" stroke="#dcdcdc" stroke-width="0.35"/>
<rect x="101.60" y="398.92" width="7.62" height="7.62" fill="#f8f6f2" stroke="#dcdcdc" stroke-width="0.35"/>
<rect x="101.60" y="406.54" width="7.62" height="7.62" fill="#dcdaec" stroke="#dcdcdc" stroke-width="0.35"/>
<rect x="101.60" y="414.16" width="7.62" height="7.62" fill="#faf8f6" stroke="#dcdcdc" stroke-width="0.35"/>
<rect x="109.22" y="391.30" width="7.62" height="7.62" fill="#f2eee8" stroke="#dcdcdc" stroke-width="0.35"/>
<rect x="109.22" y="398.92" width="7.62" height="7.62" fill="#f8f4ee" stroke="#dcdcdc" stroke-width="0.35"/>
<rect x="109.22" y="406.54" width="7.62" height="7.62" fill="#f8f0e4" stroke="#dcdcdc" stroke-width="0.35"/>
<rect x="109.22" y="414.16" width="7.62" height="7.62" fill="#fafafa" stroke="#dcdcdc" stroke-width="0.35"/>
<rect x="116.84" y="391.30" width="7.62" height="7.62" fill="#f4f0ec" stroke="#dcdcdc" stroke-width="0.35"/>
<rect x="116.84" y="398.92" width="7.62" height="7.62" fill="#f4eee4" stroke="#dcdcdc" stroke-width="0.35"/>
<rect x="116.84" y="406.54" width="7.62" height="7.62" fill="#e4e2f0" stroke="#dcdcdc" stroke-width="0.35"/>
<rect x="116.84" y="414.16" width="7.62" height="7.62" fill="#f4f0ee" stroke="#dcdcdc" stroke-width="0.35"/>
<rect x="124.46" y="391.30" width="7.62" height="7.62" fill="#f0dcb0" stroke="#dcdcdc" stroke-width="0.35"/>
<rect x="124.46" y="398.92" width="7.62" height="7.62" fill="#f2e6cc" stroke="#dcdcdc" stroke-width="0.35"/>
<rect x="124.46" y="406.54" width="7.62" height="7.62" fill="#e0def0" stroke="#dcdcdc" stroke-width="0.35"/>
<rect x="124.46" y="414.16" width="7.62" height="7.62" fill="#dcdaf0" stroke="#dcdcdc" stroke-width="0.35"/>
<rect x="132.08" y="391.30" width="7.62" height="7.62" fill="#a8a0d8" stroke="#dcdcdc" stroke-width="0.35"/>
<rect x="132.08" y="398.92" width="7.62" height="7.62" fill="#f0ecec" stroke="#dcdcdc" stroke-width="0.35"/>
<rect x="132.08" y="406.54" width="7.62" height="7.62" fill="#e6e4f2" stroke="#dcdcdc" stroke-width="0.35"/>
<rect x="132.08" y="414.16" width="7.62" height="7.62" fill="#c8c4e8" stroke="#dcdcdc" stroke-width="0.35"/>
<rect x="139.70" y="391.30" width="7.62" height="7.62" fill="#fcf8f0" stroke="#dcdcdc" stroke-width="0.35"/>
<rect x="139.70" y="398.92" width="7.62" height="7.62" fill="#9a9a9c" stroke="#dcdcdc" stroke-width="0.35"/>
<rect x="139.70" y="406.54" width="7.62" height="7.62" fill="#9a9a9c" stroke="#dcdcdc" stroke-width="0.35"/>
<rect x="139.70" y="414.16" width="7.62" height="7.62" fill="#f4e8cc" stroke="#dcdcdc" stroke-width="0.35"/>
<rect x="147.32" y="391.30" width="7.62" height="7.62" fill="#b0a8d8" stroke="#dcdcdc" stroke-width="0.35"/>
<rect x="147.32" y="398.92" width="7.62" height="7.62" fill="#d8d8ea" stroke="#dcdcdc" stroke-width="0.35"/>
<rect x="147.32" y="406.54" width="7.62" height="7.62" fill="#f4ecd8" stroke="#dcdcdc" stroke-width="0.35"/>
<rect x="147.32" y="414.16" width="7.62" height="7.62" fill="#f8f4ee" stroke="#dcdcdc" stroke-width="0.35"/>
<rect x="154.94" y="391.30" width="7.62" height="7.62" fill="#f4f0f0" stroke="#dcdcdc" stroke-width="0.35"/>
<rect x="154.94" y="398.92" width="7.62" height="7.62" fill="#7060b8" stroke="#dcdcdc" stroke-width="0.35"/>
<rect x="154.94" y="406.54" width="7.62" height="7.62" fill="#f4e8cc" stroke="#dcdcdc" stroke-width="0.35"/>
<rect x="154.94" y="414.16" width="7.62" height="7.62" fill="#e4e2f2" stroke="#dcdcdc" stroke-width="0.35"/>
<rect x="162.56" y="391.30" width="7.62" height="7.62" fill="#f0c878" stroke="#dcdcdc" stroke-width="0.35"/>
<rect x="162.56" y="398.92" width="7.62" height="7.62" fill="#f8f0e8" stroke="#dcdcdc" stroke-width="0.35"/>
<rect x="162.56" y="406.54" width="7.62" height="7.62" fill="#f4dca8" stroke="#dcdcdc" stroke-width="0.35"/>
<rect x="162.56" y="414.16" width="7.62" height="7.62" fill="#e0e0f0" stroke="#dcdcdc" stroke-width="0.35"/>
<rect x="170.18" y="391.30" width="7.62" height="7.62" fill="#b8b0dc" stroke="#dcdcdc" stroke-width="0.35"/>
<rect x="170.18" y="398.92" width="7.62" height="7.62" fill="#eeeaf2" stroke="#dcdcdc" stroke-width="0.35"/>
<rect x="170.18" y="406.54" width="7.62" height="7.62" fill="#fcf4e8" stroke="#dcdcdc" stroke-width="0.35"/>
<rect x="170.18" y="414.16" width="7.62" height="7.62" fill="#f6eee0" stroke="#dcdcdc" stroke-width="0.35"/>
<rect x="177.80" y="391.30" width="7.62" height="7.62" fill="#4a3898" stroke="#dcdcdc" stroke-width="0.35"/>
<rect x="177.80" y="398.92" width="7.62" height="7.62" fill="#e8e6f4" stroke="#dcdcdc" stroke-width="0.35"/>
<rect x="177.80" y="406.54" width="7.62" height="7.62" fill="#9a9a9c" stroke="#dcdcdc" stroke-width="0.35"/>
<rect x="177.80" y="414.16" width="7.62" height="7.62" fill="#f6eedc" stroke="#dcdcdc" stroke-width="0.35"/>
<rect x="185.42" y="391.30" width="7.62" height="7.62" fill="#fcfaf6" stroke="#dcdcdc" stroke-width="0.35"/>
<rect x="185.42" y="398.92" width="7.62" height="7.62" fill="#9a9a9c" stroke="#dcdcdc" stroke-width="0.35"/>
<rect x="185.42" y="406.54" width="7.62" height="7.62" fill="#f4e4b8" stroke="#dcdcdc" stroke-width="0.35"/>
<rect x="185.42" y="414.16" width="7.62" height="7.62" fill="#f6f0e6" stroke="#dcdcdc" stroke-width="0.35"/>
<rect x="193.04" y="391.30" width="7.62" height="7.62" fill="#f4f0ec" stroke="#dcdcdc" stroke-width="0.35"/>
<rect x="193.04" y="398.92" width="7.62" height="7.62" fill="#f6f0e6" stroke="#dcdcdc" stroke-width="0.35"/>
<rect x="193.04" y="406.54" width="7.62" height="7.62" fill="#f2f0f4" stroke="#dcdcdc" stroke-width="0.35"/>
<rect x="193.04" y="414.16" width="7.62" height="7.62" fill="#f6f0e8" stroke="#dcdcdc" stroke-width="0.35"/>
<rect x="200.66" y="391.30" width="7.62" height="7.62" fill="#f8ecd4" stroke="#dcdcdc" stroke-width="0.35"/>
<rect x="200.66" y="398.92" width="7.62" height="7.62" fill="#9a9a9c" stroke="#dcdcdc" stroke-width="0.35"/>
<rect x="200.66" y="406.54" width="7.62" height="7.62" fill="#e4e2f0" stroke="#dcdcdc" stroke-width="0.35"/>
<rect x="200.66" y="414.16" width="7.62" height="7.62" fill="#f6f0ec" stroke="#dcdcdc" stroke-width="0.35"/>
<rect x="208.28" y="391.30" width="7.62" height="7.62" fill="#f2dca8" stroke="#dcdcdc" stroke-width="0.35"/>
<rect x="208.28" y="398.92" width="7.62" height="7.62" fill="#f2d8a0" stroke="#dcdcdc" stroke-width="0.35"/>
<rect x="208.28" y="406.54" width="7.62" height="7.62" fill="#a8a0d8" stroke="#dcdcdc" stroke-width="0.35"/>
<rect x="208.28" y="414.16" width="7.62" height="7.62" fill="#a8a0d8" stroke="#dcdcdc" stroke-width="0.35"/>
<rect x="215.90" y="391.30" width="7.62" height="7.62" fill="#7060b0" stroke="#dcdcdc" stroke-width="0.35"/>
<rect x="215.90" y="398.92" width="7.62" height="7.62" fill="#e89a20" stroke="#dcdcdc" stroke-width="0.35"/>
<rect x="215.90" y="406.54" width="7.62" height="7.62" fill="#9a9a9c" stroke="#dcdcdc" stroke-width="0.35"/>
<rect x="215.90" y="414.16" width="7.62" height="7.62" fill="#eeeaf4" stroke="#dcdcdc" stroke-width="0.35"/>
<rect x="223.52" y="391.30" width="7.62" height="7.62" fill="#f8f4f0" stroke="#dcdcdc" stroke-width="0.35"/>
<rect x="223.52" y="398.92" width="7.62" height="7.62" fill="#c8c4e4" stroke="#dcdcdc" stroke-width="0.35"/>
<rect x="223.52" y="406.54" width="7.62" height="7.62" fill="#f4e0b0" stroke="#dcdcdc" stroke-width="0.35"/>
<rect x="223.52" y="414.16" width="7.62" height="7.62" fill="#f8f4f0" stroke="#dcdcdc" stroke-width="0.35"/>
<rect x="231.14" y="391.30" width="7.62" height="7.62" fill="#f8f4f0" stroke="#dcdcdc" stroke-width="0.35"/>
<rect x="231.14" y="398.92" width="7.62" height="7.62" fill="#f4dca8" stroke="#dcdcdc" stroke-width="0.35"/>
<rect x="231.14" y="406.54" width="7.62" height="7.62" fill="#f4e4c0" stroke="#dcdcdc" stroke-width="0.35"/>
<rect x="231.14" y="414.16" width="7.62" height="7.62" fill="#f8f2ec" stroke="#dcdcdc" stroke-width="0.35"/>
<rect x="238.76" y="391.30" width="7.62" height="7.62" fill="#9a9a9c" stroke="#dcdcdc" stroke-width="0.35"/>
<rect x="238.76" y="398.92" width="7.62" height="7.62" fill="#9a9a9c" stroke="#dcdcdc" stroke-width="0.35"/>
<rect x="238.76" y="406.54" width="7.62" height="7.62" fill="#f4dcaa" stroke="#dcdcdc" stroke-width="0.35"/>
<rect x="238.76" y="414.16" width="7.62" height="7.62" fill="#f8f4f0" stroke="#dcdcdc" stroke-width="0.35"/>
<rect x="246.38" y="391.30" width="7.62" height="7.62" fill="#e0e0ee" stroke="#dcdcdc" stroke-width="0.35"/>
<rect x="246.38" y="398.92" width="7.62" height="7.62" fill="#9a9a9c" stroke="#dcdcdc" stroke-width="0.35"/>
<rect x="246.38" y="406.54" width="7.62" height="7.62" fill="#9a9a9c" stroke="#dcdcdc" stroke-width="0.35"/>
<rect x="246.38" y="414.16" width="7.62" height="7.62" fill="#f8f0e0" stroke="#dcdcdc" stroke-width="0.35"/>
<rect x="254.00" y="391.30" width="7.62" height="7.62" fill="#f4ecd8" stroke="#dcdcdc" stroke-width="0.35"/>
<rect x="254.00" y="398.92" width="7.62" height="7.62" fill="#9a9a9c" stroke="#dcdcdc" stroke-width="0.35"/>
<rect x="254.00" y="406.54" width="7.62" height="7.62" fill="#9a9a9c" stroke="#dcdcdc" stroke-width="0.35"/>
<rect x="254.00" y="414.16" width="7.62" height="7.62" fill="#301870" stroke="#dcdcdc" stroke-width="0.35"/>
<rect x="261.62" y="391.30" width="7.62" height="7.62" fill="#4a2890" stroke="#dcdcdc" stroke-width="0.35"/>
<rect x="261.62" y="398.92" width="7.62" height="7.62" fill="#9a9a9c" stroke="#dcdcdc" stroke-width="0.35"/>
<rect x="261.62" y="406.54" width="7.62" height="7.62" fill="#9a9a9c" stroke="#dcdcdc" stroke-width="0.35"/>
<rect x="261.62" y="414.16" width="7.62" height="7.62" fill="#e4e2f2" stroke="#dcdcdc" stroke-width="0.35"/>
<rect x="269.24" y="391.30" width="7.62" height="7.62" fill="#ecebf4" stroke="#dcdcdc" stroke-width="0.35"/>
<rect x="269.24" y="398.92" width="7.62" height="7.62" fill="#9a9a9c" stroke="#dcdcdc" stroke-width="0.35"/>
<rect x="269.24" y="406.54" width="7.62" height="7.62" fill="#f6e8c8" stroke="#dcdcdc" stroke-width="0.35"/>
<rect x="269.24" y="414.16" width="7.62" height="7.62" fill="#f8f4ee" stroke="#dcdcdc" stroke-width="0.35"/>
<rect x="276.86" y="391.30" width="7.62" height="7.62" fill="#f4e8d0" stroke="#dcdcdc" stroke-width="0.35"/>
<rect x="276.86" y="398.92" width="7.62" height="7.62" fill="#f2d8a0" stroke="#dcdcdc" stroke-width="0.35"/>
<rect x="276.86" y="406.54" width="7.62" height="7.62" fill="#9a9a9c" stroke="#dcdcdc" stroke-width="0.35"/>
<rect x="276.86" y="414.16" width="7.62" height="7.62" fill="#f0eef4" stroke="#dcdcdc" stroke-width="0.35"/>
<rect x="288.40" y="391.30" width="7.62" height="7.62" fill="#f8f4f0" stroke="#dcdcdc" stroke-width="0.35"/>
<rect x="288.40" y="398.92" width="7.62" height="7.62" fill="#f8f4ee" stroke="#dcdcdc" stroke-width="0.35"/>
<rect x="288.40" y="406.54" width="7.62" height="7.62" fill="#d8d8ee" stroke="#dcdcdc" stroke-width="0.35"/>
<rect x="288.40" y="414.16" width="7.62" height="7.62" fill="#f8f4f0" stroke="#dcdcdc" stroke-width="0.35"/>
<rect x="296.02" y="391.30" width="7.62" height="7.62" fill="#f8f4f0" stroke="#dcdcdc" stroke-width="0.35"/>
<rect x="296.02" y="398.92" width="7.62" height="7.62" fill="#f8f2ea" stroke="#dcdcdc" stroke-width="0.35"/>
<rect x="296.02" y="406.54" width="7.62" height="7.62" fill="#f0f0f8" stroke="#dcdcdc" stroke-width="0.35"/>
<rect x="296.02" y="414.16" width="7.62" height="7.62" fill="#f8f4ee" stroke="#dcdcdc" stroke-width="0.35"/>
<rect x="303.64" y="391.30" width="7.62" height="7.62" fill="#f8f8f4" stroke="#dcdcdc" stroke-width="0.35"/>
<rect x="303.64" y="398.92" width="7.62" height="7.62" fill="#9a9a9c" stroke="#dcdcdc" stroke-width="0.35"/>
<rect x="303.64" y="406.54" width="7.62" height="7.62" fill="#b0a8dc" stroke="#dcdcdc" stroke-width="0.35"/>
<rect x="303.64" y="414.16" width="7.62" height="7.62" fill="#f8f4f0" stroke="#dcdcdc" stroke-width="0.35"/>
<rect x="311.26" y="391.30" width="7.62" height="7.62" fill="#6a2008" stroke="#dcdcdc" stroke-width="0.35"/>
<circle cx="315.07" cy="395.11" r="0.90" fill="#3a1a08" stroke="none" stroke-width="0.6"/>
<rect x="311.26" y="398.92" width="7.62" height="7.62" fill="#9a9a9c" stroke="#dcdcdc" stroke-width="0.35"/>
<rect x="311.26" y="406.54" width="7.62" height="7.62" fill="#9a9a9c" stroke="#dcdcdc" stroke-width="0.35"/>
<rect x="311.26" y="414.16" width="7.62" height="7.62" fill="#f0c070" stroke="#dcdcdc" stroke-width="0.35"/>
<rect x="318.88" y="391.30" width="7.62" height="7.62" fill="#eeb050" stroke="#dcdcdc" stroke-width="0.35"/>
<rect x="318.88" y="398.92" width="7.62" height="7.62" fill="#9a9a9c" stroke="#dcdcdc" stroke-width="0.35"/>
<rect x="318.88" y="406.54" width="7.62" height="7.62" fill="#9a9a9c" stroke="#dcdcdc" stroke-width="0.35"/>
<rect x="318.88" y="414.16" width="7.62" height="7.62" fill="#f8f0e0" stroke="#dcdcdc" stroke-width="0.35"/>
<rect x="326.50" y="391.30" width="7.62" height="7.62" fill="#dcdcf0" stroke="#dcdcdc" stroke-width="0.35"/>
<rect x="326.50" y="398.92" width="7.62" height="7.62" fill="#9a9a9c" stroke="#dcdcdc" stroke-width="0.35"/>
<rect x="326.50" y="406.54" width="7.62" height="7.62" fill="#9a9a9c" stroke="#dcdcdc" stroke-width="0.35"/>
<rect x="326.50" y="414.16" width="7.62" height="7.62" fill="#f8f4ee" stroke="#dcdcdc" stroke-width="0.35"/>
<rect x="334.12" y="391.30" width="7.62" height="7.62" fill="#f8f2e6" stroke="#dcdcdc" stroke-width="0.35"/>
<rect x="334.12" y="398.92" width="7.62" height="7.62" fill="#9a9a9c" stroke="#dcdcdc" stroke-width="0.35"/>
<rect x="334.12" y="406.54" width="7.62" height="7.62" fill="#9a9a9c" stroke="#dcdcdc" stroke-width="0.35"/>
<rect x="334.12" y="414.16" width="7.62" height="7.62" fill="#f8f0e4" stroke="#dcdcdc" stroke-width="0.35"/>
<rect x="341.74" y="391.30" width="7.62" height="7.62" fill="#9a9a9c" stroke="#dcdcdc" stroke-width="0.35"/>
<rect x="341.74" y="398.92" width="7.62" height="7.62" fill="#9a9a9c" stroke="#dcdcdc" stroke-width="0.35"/>
<rect x="341.74" y="406.54" width="7.62" height="7.62" fill="#9a9a9c" stroke="#dcdcdc" stroke-width="0.35"/>
<rect x="341.74" y="414.16" width="7.62" height="7.62" fill="#f8f2ea" stroke="#dcdcdc" stroke-width="0.35"/>
<rect x="349.36" y="391.30" width="7.62" height="7.62" fill="#f6ead8" stroke="#dcdcdc" stroke-width="0.35"/>
<rect x="349.36" y="398.92" width="7.62" height="7.62" fill="#f0d08a" stroke="#dcdcdc" stroke-width="0.35"/>
<rect x="349.36" y="406.54" width="7.62" height="7.62" fill="#9a9a9c" stroke="#dcdcdc" stroke-width="0.35"/>
<rect x="349.36" y="414.16" width="7.62" height="7.62" fill="#f8f4ee" stroke="#dcdcdc" stroke-width="0.35"/>
<rect x="361.90" y="391.30" width="7.62" height="7.62" fill="#f8f6f0" stroke="#dcdcdc" stroke-width="0.35"/>
<rect x="361.90" y="398.92" width="7.62" height="7.62" fill="#f8f4ee" stroke="#dcdcdc" stroke-width="0.35"/>
<rect x="361.90" y="406.54" width="7.62" height="7.62" fill="#9a9a9c" stroke="#dcdcdc" stroke-width="0.35"/>
<rect x="361.90" y="414.16" width="7.62" height="7.62" fill="#f6ecd4" stroke="#dcdcdc" stroke-width="0.35"/>
<rect x="369.52" y="391.30" width="7.62" height="7.62" fill="#9a9a9c" stroke="#dcdcdc" stroke-width="0.35"/>
<rect x="369.52" y="398.92" width="7.62" height="7.62" fill="#f6e4b8" stroke="#dcdcdc" stroke-width="0.35"/>
<rect x="369.52" y="406.54" width="7.62" height="7.62" fill="#9a9a9c" stroke="#dcdcdc" stroke-width="0.35"/>
<rect x="369.52" y="414.16" width="7.62" height="7.62" fill="#d0cce8" stroke="#dcdcdc" stroke-width="0.35"/>
<rect x="377.14" y="391.30" width="7.62" height="7.62" fill="#f4e0b8" stroke="#dcdcdc" stroke-width="0.35"/>
<rect x="377.14" y="398.92" width="7.62" height="7.62" fill="#eba840" stroke="#dcdcdc" stroke-width="0.35"/>
<rect x="377.14" y="406.54" width="7.62" height="7.62" fill="#9a9a9c" stroke="#dcdcdc" stroke-width="0.35"/>
<rect x="377.14" y="414.16" width="7.62" height="7.62" fill="#9a9a9c" stroke="#dcdcdc" stroke-width="0.35"/>
<rect x="384.76" y="391.30" width="7.62" height="7.62" fill="#f8f4ee" stroke="#dcdcdc" stroke-width="0.35"/>
<rect x="384.76" y="398.92" width="7.62" height="7.62" fill="#f8f2e6" stroke="#dcdcdc" stroke-width="0.35"/>
<rect x="384.76" y="406.54" width="7.62" height="7.62" fill="#f8f4ee" stroke="#dcdcdc" stroke-width="0.35"/>
<rect x="384.76" y="414.16" width="7.62" height="7.62" fill="#f8f4ee" stroke="#dcdcdc" stroke-width="0.35"/>
<rect x="392.38" y="391.30" width="7.62" height="7.62" fill="#f8f4ee" stroke="#dcdcdc" stroke-width="0.35"/>
<rect x="392.38" y="398.92" width="7.62" height="7.62" fill="#f8f0e4" stroke="#dcdcdc" stroke-width="0.35"/>
<rect x="392.38" y="406.54" width="7.62" height="7.62" fill="#f8f0e6" stroke="#dcdcdc" stroke-width="0.35"/>
<rect x="392.38" y="414.16" width="7.62" height="7.62" fill="#f8f4ee" stroke="#dcdcdc" stroke-width="0.35"/>
<rect x="400.00" y="391.30" width="7.62" height="7.62" fill="#eeeef4" stroke="#dcdcdc" stroke-width="0.35"/>
<rect x="400.00" y="398.92" width="7.62" height="7.62" fill="#9a9a9c" stroke="#dcdcdc" stroke-width="0.35"/>
<rect x="400.00" y="406.54" width="7.62" height="7.62" fill="#f6e8c8" stroke="#dcdcdc" stroke-width="0.35"/>
<rect x="400.00" y="414.16" width="7.62" height="7.62" fill="#f6ecd8" stroke="#dcdcdc" stroke-width="0.35"/>
<rect x="407.62" y="391.30" width="7.62" height="7.62" fill="#9a9a9c" stroke="#dcdcdc" stroke-width="0.35"/>
<rect x="407.62" y="398.92" width="7.62" height="7.62" fill="#9a9a9c" stroke="#dcdcdc" stroke-width="0.35"/>
<rect x="407.62" y="406.54" width="7.62" height="7.62" fill="#5a1a0a" stroke="#dcdcdc" stroke-width="0.35"/>
<rect x="407.62" y="414.16" width="7.62" height="7.62" fill="#f4e4b8" stroke="#dcdcdc" stroke-width="0.35"/>
<rect x="415.24" y="391.30" width="7.62" height="7.62" fill="#9a9a9c" stroke="#dcdcdc" stroke-width="0.35"/>
<rect x="415.24" y="398.92" width="7.62" height="7.62" fill="#9a9a9c" stroke="#dcdcdc" stroke-width="0.35"/>
<rect x="415.24" y="406.54" width="7.62" height="7.62" fill="#9a9a9c" stroke="#dcdcdc" stroke-width="0.35"/>
<rect x="415.24" y="414.16" width="7.62" height="7.62" fill="#dcdaf0" stroke="#dcdcdc" stroke-width="0.35"/>
<rect x="422.86" y="391.30" width="7.62" height="7.62" fill="#f2d498" stroke="#dcdcdc" stroke-width="0.35"/>
<rect x="422.86" y="398.92" width="7.62" height="7.62" fill="#9a9a9c" stroke="#dcdcdc" stroke-width="0.35"/>
<rect x="422.86" y="406.54" width="7.62" height="7.62" fill="#9a9a9c" stroke="#dcdcdc" stroke-width="0.35"/>
<rect x="422.86" y="414.16" width="7.62" height="7.62" fill="#f2d8a0" stroke="#dcdcdc" stroke-width="0.35"/>
<rect x="430.48" y="391.30" width="7.62" height="7.62" fill="#9a9a9c" stroke="#dcdcdc" stroke-width="0.35"/>
<rect x="430.48" y="398.92" width="7.62" height="7.62" fill="#9a9a9c" stroke="#dcdcdc" stroke-width="0.35"/>
<rect x="430.48" y="406.54" width="7.62" height="7.62" fill="#9a9a9c" stroke="#dcdcdc" stroke-width="0.35"/>
<rect x="430.48" y="414.16" width="7.62" height="7.62" fill="#e8e6f4" stroke="#dcdcdc" stroke-width="0.35"/>
<rect x="438.10" y="391.30" width="7.62" height="7.62" fill="#9a9a9c" stroke="#dcdcdc" stroke-width="0.35"/>
<rect x="438.10" y="398.92" width="7.62" height="7.62" fill="#f0d090" stroke="#dcdcdc" stroke-width="0.35"/>
<rect x="438.10" y="406.54" width="7.62" height="7.62" fill="#9a9a9c" stroke="#dcdcdc" stroke-width="0.35"/>
<rect x="438.10" y="414.16" width="7.62" height="7.62" fill="#c8c4e8" stroke="#dcdcdc" stroke-width="0.35"/>
<rect x="445.72" y="391.30" width="7.62" height="7.62" fill="#f8f4ee" stroke="#dcdcdc" stroke-width="0.35"/>
<rect x="445.72" y="398.92" width="7.62" height="7.62" fill="#9a9a9c" stroke="#dcdcdc" stroke-width="0.35"/>
<rect x="445.72" y="406.54" width="7.62" height="7.62" fill="#9a9a9c" stroke="#dcdcdc" stroke-width="0.35"/>
<rect x="445.72" y="414.16" width="7.62" height="7.62" fill="#b8b4e0" stroke="#dcdcdc" stroke-width="0.35"/>
<rect x="453.34" y="391.30" width="7.62" height="7.62" fill="#9a9a9c" stroke="#dcdcdc" stroke-width="0.35"/>
<rect x="453.34" y="398.92" width="7.62" height="7.62" fill="#f6ecd4" stroke="#dcdcdc" stroke-width="0.35"/>
<rect x="453.34" y="406.54" width="7.62" height="7.62" fill="#9a9a9c" stroke="#dcdcdc" stroke-width="0.35"/>
<rect x="453.34" y="414.16" width="7.62" height="7.62" fill="#f8f6f4" stroke="#dcdcdc" stroke-width="0.35"/>
<rect x="460.96" y="391.30" width="7.62" height="7.62" fill="#5a48a8" stroke="#dcdcdc" stroke-width="0.35"/>
<rect x="460.96" y="398.92" width="7.62" height="7.62" fill="#f8f4ee" stroke="#dcdcdc" stroke-width="0.35"/>
<rect x="460.96" y="406.54" width="7.62" height="7.62" fill="#9a9a9c" stroke="#dcdcdc" stroke-width="0.35"/>
<rect x="460.96" y="414.16" width="7.62" height="7.62" fill="#8880c8" stroke="#dcdcdc" stroke-width="0.35"/>
<rect x="468.58" y="391.30" width="7.62" height="7.62" fill="#9a9a9c" stroke="#dcdcdc" stroke-width="0.35"/>
<rect x="468.58" y="398.92" width="7.62" height="7.62" fill="#9a9a9c" stroke="#dcdcdc" stroke-width="0.35"/>
<rect x="468.58" y="406.54" width="7.62" height="7.62" fill="#9a9a9c" stroke="#dcdcdc" stroke-width="0.35"/>
<rect x="468.58" y="414.16" width="7.62" height="7.62" fill="#f8f6f4" stroke="#dcdcdc" stroke-width="0.35"/>
<rect x="476.20" y="391.30" width="7.62" height="7.62" fill="#e4e2f2" stroke="#dcdcdc" stroke-width="0.35"/>
<rect x="476.20" y="398.92" width="7.62" height="7.62" fill="#e4e2f2" stroke="#dcdcdc" stroke-width="0.35"/>
<rect x="476.20" y="406.54" width="7.62" height="7.62" fill="#dcdaee" stroke="#dcdcdc" stroke-width="0.35"/>
<rect x="476.20" y="414.16" width="7.62" height="7.62" fill="#f6f4f4" stroke="#dcdcdc" stroke-width="0.35"/>
<line x1="40.30" y1="395.10" x2="42.90" y2="395.10" stroke="#2a2a2a" stroke-width="1.0" />
<line x1="40.30" y1="402.70" x2="42.90" y2="402.70" stroke="#2a2a2a" stroke-width="1.0" />
<line x1="40.30" y1="410.30" x2="42.90" y2="410.30" stroke="#2a2a2a" stroke-width="1.0" />
<line x1="40.30" y1="418.00" x2="42.90" y2="418.00" stroke="#2a2a2a" stroke-width="1.0" />
<text x="38.50" y="397.36" font-size="7.1" fill="#333" text-anchor="end" textLength="29.80" lengthAdjust="spacingAndGlyphs" >Truncating</text>
<text x="38.50" y="403.56" font-size="7.1" fill="#333" text-anchor="end" textLength="25.50" lengthAdjust="spacingAndGlyphs" >Start lost</text>
<text x="38.50" y="408.36" font-size="7.1" fill="#333" text-anchor="end" textLength="25.50" lengthAdjust="spacingAndGlyphs" >Missense</text>
<text x="38.50" y="414.46" font-size="7.1" fill="#333" text-anchor="end" textLength="31.00" lengthAdjust="spacingAndGlyphs" >pathogenic</text>
<text x="38.50" y="419.86" font-size="7.1" fill="#333" text-anchor="end" textLength="25.50" lengthAdjust="spacingAndGlyphs" >Missense</text>
<text x="38.50" y="425.56" font-size="7.1" fill="#333" text-anchor="end" textLength="11.00" lengthAdjust="spacingAndGlyphs" >VUS</text>
<text transform="translate(47.41,445.36) rotate(-90)" x="0" y="2.20" font-size="6.1" fill="#4a4a4a" text-anchor="middle" textLength="41.12" lengthAdjust="spacingAndGlyphs" >Any neoplasm</text>
<text transform="translate(55.03,450.95) rotate(-90)" x="0" y="2.20" font-size="6.1" fill="#4a4a4a" text-anchor="middle" textLength="52.30" lengthAdjust="spacingAndGlyphs" >Myeloid neoplasm</text>
<text transform="translate(62.65,432.01) rotate(-90)" x="0" y="2.20" font-size="6.1" fill="#4a4a4a" text-anchor="middle" textLength="14.42" lengthAdjust="spacingAndGlyphs" >MPN</text>
<text transform="translate(70.27,432.01) rotate(-90)" x="0" y="2.20" font-size="6.1" fill="#4a4a4a" text-anchor="middle" textLength="14.42" lengthAdjust="spacingAndGlyphs" >MDS</text>
<text transform="translate(77.89,431.47) rotate(-90)" x="0" y="2.20" font-size="6.1" fill="#4a4a4a" text-anchor="middle" textLength="13.34" lengthAdjust="spacingAndGlyphs" >AML</text>
<text transform="translate(85.51,452.63) rotate(-90)" x="0" y="2.20" font-size="6.1" fill="#4a4a4a" text-anchor="middle" textLength="55.66" lengthAdjust="spacingAndGlyphs" >Lymphoid leukemia</text>
<text transform="translate(93.13,439.41) rotate(-90)" x="0" y="2.20" font-size="6.1" fill="#4a4a4a" text-anchor="middle" textLength="29.22" lengthAdjust="spacingAndGlyphs" >Cytopenia</text>
<text transform="translate(105.41,468.80) rotate(-90)" x="0" y="2.20" font-size="6.1" fill="#4a4a4a" text-anchor="middle" textLength="88.01" lengthAdjust="spacingAndGlyphs" >Non-haematopoietic neoplasm</text>
<text transform="translate(113.03,434.18) rotate(-90)" x="0" y="2.20" font-size="6.1" fill="#4a4a4a" text-anchor="middle" textLength="18.75" lengthAdjust="spacingAndGlyphs" >Breast</text>
<text transform="translate(120.65,436.88) rotate(-90)" x="0" y="2.20" font-size="6.1" fill="#4a4a4a" text-anchor="middle" textLength="24.16" lengthAdjust="spacingAndGlyphs" >Prostate</text>
<text transform="translate(128.27,432.02) rotate(-90)" x="0" y="2.20" font-size="6.1" fill="#4a4a4a" text-anchor="middle" textLength="14.43" lengthAdjust="spacingAndGlyphs" >Lung</text>
<text transform="translate(135.89,439.41) rotate(-90)" x="0" y="2.20" font-size="6.1" fill="#4a4a4a" text-anchor="middle" textLength="29.21" lengthAdjust="spacingAndGlyphs" >Colorectal</text>
<text transform="translate(143.51,445.90) rotate(-90)" x="0" y="2.20" font-size="6.1" fill="#4a4a4a" text-anchor="middle" textLength="42.20" lengthAdjust="spacingAndGlyphs" >Small intestine</text>
<text transform="translate(151.13,439.95) rotate(-90)" x="0" y="2.20" font-size="6.1" fill="#4a4a4a" text-anchor="middle" textLength="30.29" lengthAdjust="spacingAndGlyphs" >Melanoma</text>
<text transform="translate(158.75,440.73) rotate(-90)" x="0" y="2.20" font-size="6.1" fill="#4a4a4a" text-anchor="middle" textLength="31.86" lengthAdjust="spacingAndGlyphs" >Lymphoma</text>
<text transform="translate(166.37,437.96) rotate(-90)" x="0" y="2.20" font-size="6.1" fill="#4a4a4a" text-anchor="middle" textLength="26.32" lengthAdjust="spacingAndGlyphs" >Myeloma</text>
<text transform="translate(173.99,434.72) rotate(-90)" x="0" y="2.20" font-size="6.1" fill="#4a4a4a" text-anchor="middle" textLength="19.84" lengthAdjust="spacingAndGlyphs" >Kidney</text>
<text transform="translate(181.61,446.62) rotate(-90)" x="0" y="2.20" font-size="6.1" fill="#4a4a4a" text-anchor="middle" textLength="43.65" lengthAdjust="spacingAndGlyphs" >Head and neck</text>
<text transform="translate(189.23,432.37) rotate(-90)" x="0" y="2.20" font-size="6.1" fill="#4a4a4a" text-anchor="middle" textLength="15.15" lengthAdjust="spacingAndGlyphs" >Brain</text>
<text transform="translate(196.85,435.98) rotate(-90)" x="0" y="2.20" font-size="6.1" fill="#4a4a4a" text-anchor="middle" textLength="22.36" lengthAdjust="spacingAndGlyphs" >Bladder</text>
<text transform="translate(204.47,438.51) rotate(-90)" x="0" y="2.20" font-size="6.1" fill="#4a4a4a" text-anchor="middle" textLength="27.41" lengthAdjust="spacingAndGlyphs" >Pancreas</text>
<text transform="translate(212.09,435.26) rotate(-90)" x="0" y="2.20" font-size="6.1" fill="#4a4a4a" text-anchor="middle" textLength="20.92" lengthAdjust="spacingAndGlyphs" >Uterine</text>
<text transform="translate(219.71,444.10) rotate(-90)" x="0" y="2.20" font-size="6.1" fill="#4a4a4a" text-anchor="middle" textLength="38.60" lengthAdjust="spacingAndGlyphs" >Oesophageal</text>
<text transform="translate(227.33,436.16) rotate(-90)" x="0" y="2.20" font-size="6.1" fill="#4a4a4a" text-anchor="middle" textLength="22.72" lengthAdjust="spacingAndGlyphs" >Ovarian</text>
<text transform="translate(234.95,437.60) rotate(-90)" x="0" y="2.20" font-size="6.1" fill="#4a4a4a" text-anchor="middle" textLength="25.61" lengthAdjust="spacingAndGlyphs" >Stomach</text>
<text transform="translate(242.57,431.83) rotate(-90)" x="0" y="2.20" font-size="6.1" fill="#4a4a4a" text-anchor="middle" textLength="14.06" lengthAdjust="spacingAndGlyphs" >Liver</text>
<text transform="translate(250.19,435.62) rotate(-90)" x="0" y="2.20" font-size="6.1" fill="#4a4a4a" text-anchor="middle" textLength="21.64" lengthAdjust="spacingAndGlyphs" >Thyroid</text>
<text transform="translate(257.81,432.73) rotate(-90)" x="0" y="2.20" font-size="6.1" fill="#4a4a4a" text-anchor="middle" textLength="15.86" lengthAdjust="spacingAndGlyphs" >Biliari</text>
<text transform="translate(265.43,436.52) rotate(-90)" x="0" y="2.20" font-size="6.1" fill="#4a4a4a" text-anchor="middle" textLength="23.44" lengthAdjust="spacingAndGlyphs" >Cervical</text>
<text transform="translate(273.05,437.78) rotate(-90)" x="0" y="2.20" font-size="6.1" fill="#4a4a4a" text-anchor="middle" textLength="25.96" lengthAdjust="spacingAndGlyphs" >Sarcoma</text>
<text transform="translate(280.67,438.50) rotate(-90)" x="0" y="2.20" font-size="6.1" fill="#4a4a4a" text-anchor="middle" textLength="27.41" lengthAdjust="spacingAndGlyphs" >Testicular</text>
<text transform="translate(292.21,460.33) rotate(-90)" x="0" y="2.20" font-size="6.1" fill="#4a4a4a" text-anchor="middle" textLength="71.06" lengthAdjust="spacingAndGlyphs" >Any malignant neoplasm</text>
<text transform="translate(299.83,448.96) rotate(-90)" x="0" y="2.20" font-size="6.1" fill="#4a4a4a" text-anchor="middle" textLength="48.33" lengthAdjust="spacingAndGlyphs" >Digestive organs</text>
<text transform="translate(307.45,434.18) rotate(-90)" x="0" y="2.20" font-size="6.1" fill="#4a4a4a" text-anchor="middle" textLength="18.75" lengthAdjust="spacingAndGlyphs" >Breast</text>
<text transform="translate(315.07,438.87) rotate(-90)" x="0" y="2.20" font-size="6.1" fill="#4a4a4a" text-anchor="middle" textLength="28.13" lengthAdjust="spacingAndGlyphs" >Leukemia</text>
<text transform="translate(322.69,446.08) rotate(-90)" x="0" y="2.20" font-size="6.1" fill="#4a4a4a" text-anchor="middle" textLength="42.55" lengthAdjust="spacingAndGlyphs" >Urinary organs</text>
<text transform="translate(330.31,432.02) rotate(-90)" x="0" y="2.20" font-size="6.1" fill="#4a4a4a" text-anchor="middle" textLength="14.43" lengthAdjust="spacingAndGlyphs" >Lung</text>
<text transform="translate(337.93,445.90) rotate(-90)" x="0" y="2.20" font-size="6.1" fill="#4a4a4a" text-anchor="middle" textLength="42.20" lengthAdjust="spacingAndGlyphs" >Genital organs</text>
<text transform="translate(342.85,462.55) rotate(-90)" x="0" y="2.20" font-size="6.1" fill="#4a4a4a" text-anchor="middle" textLength="75.51" lengthAdjust="spacingAndGlyphs" >Lymphoid, haematopoietic</text>
<text transform="translate(348.05,450.41) rotate(-90)" x="0" y="2.20" font-size="6.1" fill="#4a4a4a" text-anchor="middle" textLength="51.22" lengthAdjust="spacingAndGlyphs" >and related tissue</text>
<text transform="translate(353.17,460.32) rotate(-90)" x="0" y="2.20" font-size="6.1" fill="#4a4a4a" text-anchor="middle" textLength="71.04" lengthAdjust="spacingAndGlyphs" >Other organs or systems</text>
<text transform="translate(365.71,448.42) rotate(-90)" x="0" y="2.20" font-size="6.1" fill="#4a4a4a" text-anchor="middle" textLength="47.24" lengthAdjust="spacingAndGlyphs" >Rheumatic fever</text>
<text transform="translate(373.33,449.50) rotate(-90)" x="0" y="2.20" font-size="6.1" fill="#4a4a4a" text-anchor="middle" textLength="49.40" lengthAdjust="spacingAndGlyphs" >Multiple sclerosis</text>
<text transform="translate(380.95,450.95) rotate(-90)" x="0" y="2.20" font-size="6.1" fill="#4a4a4a" text-anchor="middle" textLength="52.29" lengthAdjust="spacingAndGlyphs" >Myasthenia gravis</text>
<text transform="translate(388.57,445.72) rotate(-90)" x="0" y="2.20" font-size="6.1" fill="#4a4a4a" text-anchor="middle" textLength="41.84" lengthAdjust="spacingAndGlyphs" >Crohn disease</text>
<text transform="translate(396.19,448.24) rotate(-90)" x="0" y="2.20" font-size="6.1" fill="#4a4a4a" text-anchor="middle" textLength="46.88" lengthAdjust="spacingAndGlyphs" >Ulcerative colitis</text>
<text transform="translate(403.81,482.15) rotate(-90)" x="0" y="2.20" font-size="6.1" fill="#4a4a4a" text-anchor="middle" textLength="114.70" lengthAdjust="spacingAndGlyphs" >Psoriatic and enteropathic arthropathies</text>
<text transform="translate(411.43,453.29) rotate(-90)" x="0" y="2.20" font-size="6.1" fill="#4a4a4a" text-anchor="middle" textLength="56.98" lengthAdjust="spacingAndGlyphs" >Polyarteritis nodosa</text>
<text transform="translate(419.05,430.93) rotate(-90)" x="0" y="2.20" font-size="6.1" fill="#4a4a4a" text-anchor="middle" textLength="12.27" lengthAdjust="spacingAndGlyphs" >SLE</text>
<text transform="translate(426.67,454.91) rotate(-90)" x="0" y="2.20" font-size="6.1" fill="#4a4a4a" text-anchor="middle" textLength="60.22" lengthAdjust="spacingAndGlyphs" >Dermatopolymyositis</text>
<text transform="translate(434.29,451.48) rotate(-90)" x="0" y="2.20" font-size="6.1" fill="#4a4a4a" text-anchor="middle" textLength="53.36" lengthAdjust="spacingAndGlyphs" >Systemic sclerosis</text>
<text transform="translate(441.91,456.54) rotate(-90)" x="0" y="2.20" font-size="6.1" fill="#4a4a4a" text-anchor="middle" textLength="63.48" lengthAdjust="spacingAndGlyphs" >Ankylosing spondylitis</text>
<text transform="translate(449.53,434.30) rotate(-90)" x="0" y="2.20" font-size="6.1" fill="#4a4a4a" text-anchor="middle" textLength="19.00" lengthAdjust="spacingAndGlyphs" >Vitiligo</text>
<text transform="translate(457.15,451.13) rotate(-90)" x="0" y="2.20" font-size="6.1" fill="#4a4a4a" text-anchor="middle" textLength="52.66" lengthAdjust="spacingAndGlyphs" >Sjogren syndrome</text>
<text transform="translate(464.77,441.57) rotate(-90)" x="0" y="2.20" font-size="6.1" fill="#4a4a4a" text-anchor="middle" textLength="33.54" lengthAdjust="spacingAndGlyphs" >Sarcoidosis</text>
<text transform="translate(472.39,448.06) rotate(-90)" x="0" y="2.20" font-size="6.1" fill="#4a4a4a" text-anchor="middle" textLength="46.52" lengthAdjust="spacingAndGlyphs" >Seropositive RA</text>
<text transform="translate(480.01,438.32) rotate(-90)" x="0" y="2.20" font-size="6.1" fill="#4a4a4a" text-anchor="middle" textLength="27.05" lengthAdjust="spacingAndGlyphs" >Other RA</text>
<defs><linearGradient id="cb" x1="0" y1="0" x2="0" y2="1">
<stop offset="0" stop-color="#4a1200"/><stop offset="0.15" stop-color="#9a4a0a"/><stop offset="0.27" stop-color="#d89a30"/>
<stop offset="0.42" stop-color="#f4e2b0"/><stop offset="0.5" stop-color="#ffffff"/><stop offset="0.62" stop-color="#d4d0ea"/>
<stop offset="0.75" stop-color="#8a7cc4"/><stop offset="0.88" stop-color="#3c2488"/><stop offset="1" stop-color="#1a0840"/></linearGradient></defs>
<rect x="487.10" y="385.80" width="5.50" height="40.60" fill="url(#cb)" />
<text x="495.20" y="388.83" font-size="6.2" fill="#333" >≥10</text>
<text x="495.20" y="399.23" font-size="6.2" fill="#333" >5</text>
<text x="495.20" y="408.43" font-size="6.2" fill="#333" >1</text>
<text x="495.20" y="418.23" font-size="6.2" fill="#333" >0.5</text>
<text x="495.20" y="428.13" font-size="6.2" fill="#333" >0</text>
<line x1="486.60" y1="397.00" x2="488.30" y2="397.00" stroke="#222" stroke-width="0.6" />
<line x1="491.40" y1="397.00" x2="493.10" y2="397.00" stroke="#222" stroke-width="0.6" />
<line x1="486.60" y1="406.20" x2="488.30" y2="406.20" stroke="#222" stroke-width="0.6" />
<line x1="491.40" y1="406.20" x2="493.10" y2="406.20" stroke="#222" stroke-width="0.6" />
<line x1="486.60" y1="416.00" x2="488.30" y2="416.00" stroke="#222" stroke-width="0.6" />
<line x1="491.40" y1="416.00" x2="493.10" y2="416.00" stroke="#222" stroke-width="0.6" />
<rect x="0.00" y="0.00" width="520.00" height="1.20" fill="#4a4a4a" />
<rect x="0.00" y="0.00" width="1.20" height="546.00" fill="#555" />
<rect x="518.80" y="0.00" width="1.20" height="546.00" fill="#555" />
<rect x="0.00" y="544.50" width="520.00" height="1.50" fill="#444" />
</svg></body></html>
